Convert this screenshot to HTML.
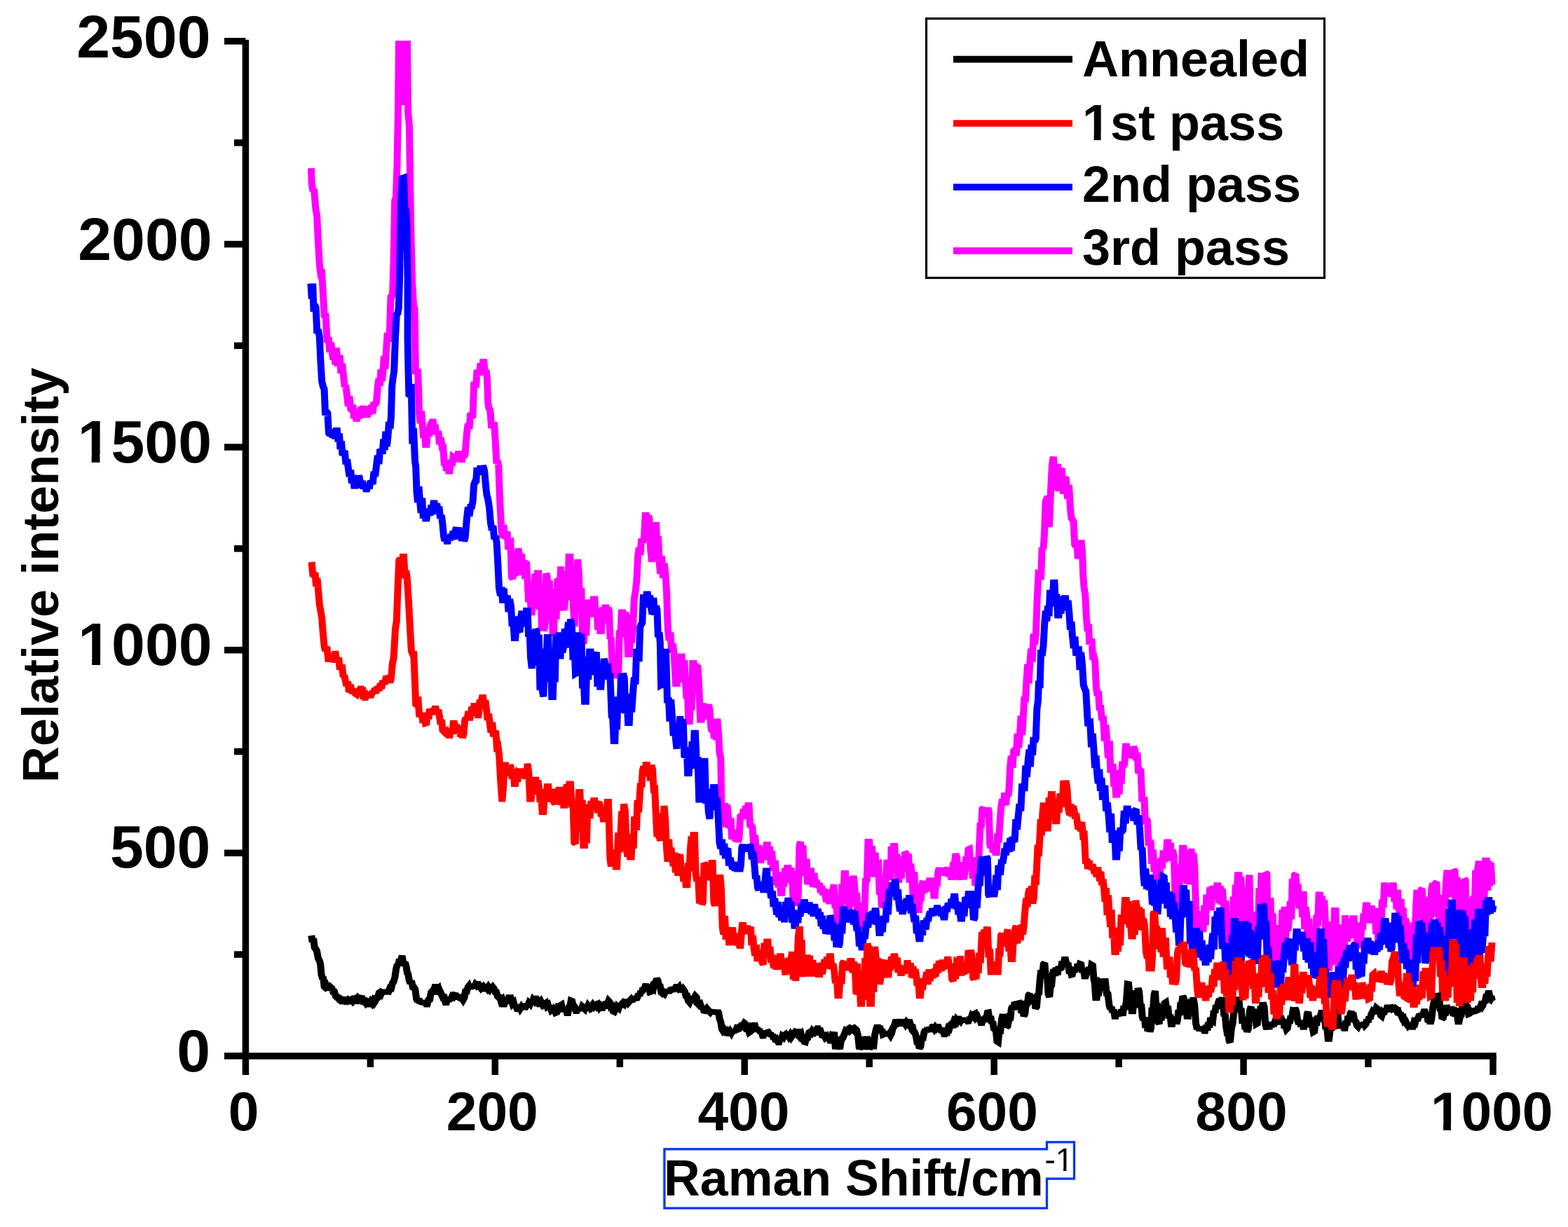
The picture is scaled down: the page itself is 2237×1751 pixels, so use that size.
<!DOCTYPE html>
<html><head><meta charset="utf-8"><title>Raman spectra</title>
<style>html,body{margin:0;padding:0;background:#fff;}body{width:2237px;height:1751px;overflow:hidden;}svg{display:block;}</style>
</head><body>
<svg width="2237" height="1751" viewBox="0 0 2237 1751"><polyline points="444.2,1335.0 445.7,1344.1 447.2,1339.1 448.7,1351.9 450.2,1354.0 452.0,1357.1 453.9,1367.4 455.7,1370.7 457.1,1375.3 458.5,1390.6 459.9,1395.5 461.3,1396.5 462.6,1407.8 464.0,1409.0 465.6,1407.2 467.2,1411.6 468.8,1406.3 470.4,1412.7 472.0,1409.2 473.6,1410.6 475.3,1415.3 477.1,1415.6 478.8,1421.3 480.5,1423.0 482.1,1423.2 483.8,1425.8 485.4,1425.6 487.1,1428.4 488.7,1428.5 490.3,1427.5 491.8,1428.5 493.4,1427.5 495.0,1428.5 496.6,1427.1 498.1,1428.5 499.7,1428.5 501.2,1427.2 502.8,1428.7 504.3,1426.4 505.8,1427.2 507.4,1425.5 508.9,1426.5 510.4,1424.3 512.0,1426.1 513.5,1424.3 515.0,1424.6 516.6,1427.5 518.1,1426.6 519.7,1429.2 521.2,1428.8 522.8,1432.0 524.4,1430.8 525.9,1432.6 527.5,1432.6 529.1,1429.6 530.7,1431.6 532.3,1428.5 533.9,1430.9 535.5,1428.5 537.2,1424.2 539.0,1423.5 540.7,1417.1 542.4,1416.0 543.9,1417.8 545.5,1414.1 547.0,1417.9 548.5,1413.1 550.1,1417.8 551.6,1412.9 553.2,1417.8 554.7,1414.7 556.4,1409.8 558.2,1410.1 559.9,1403.1 561.6,1401.0 563.4,1394.5 565.2,1382.3 567.0,1376.0 568.4,1377.5 569.8,1368.8 571.2,1373.4 572.6,1368.0 574.3,1368.1 576.0,1377.8 577.8,1373.2 579.5,1379.0 580.9,1387.9 582.2,1390.0 583.6,1398.0 585.3,1403.3 587.0,1399.9 588.8,1408.4 590.5,1409.0 592.3,1411.7 594.2,1425.6 596.0,1428.5 597.5,1425.2 599.0,1431.3 600.6,1428.6 602.1,1432.0 603.6,1429.6 605.1,1432.6 606.7,1428.4 608.2,1432.6 609.7,1432.6 611.4,1427.0 613.2,1426.1 614.9,1416.7 616.6,1414.7 618.4,1414.6 620.2,1409.0 622.0,1409.0 623.7,1412.2 625.3,1410.8 627.0,1418.6 628.6,1416.5 630.3,1420.2 632.0,1423.9 633.8,1423.6 635.5,1430.0 637.2,1430.0 638.8,1426.0 640.3,1428.9 641.9,1423.4 643.5,1425.6 645.1,1421.9 646.6,1422.8 648.2,1420.0 649.8,1417.9 651.3,1424.9 652.9,1419.6 654.4,1425.6 656.0,1421.7 657.5,1426.9 659.1,1424.8 660.6,1427.0 662.3,1424.0 664.0,1415.2 665.8,1414.9 667.5,1409.0 669.0,1407.1 670.5,1410.6 672.1,1406.5 673.6,1408.9 675.1,1406.0 676.6,1408.4 678.2,1405.1 679.7,1406.6 681.2,1405.0 682.8,1405.0 684.3,1407.3 685.9,1405.3 687.5,1409.5 689.1,1408.1 690.6,1410.6 692.2,1410.6 693.8,1409.4 695.3,1411.1 696.9,1408.5 698.5,1410.9 700.1,1407.8 701.6,1411.3 703.2,1409.0 704.8,1411.0 706.5,1415.5 708.1,1415.9 709.8,1421.5 711.4,1423.0 713.1,1423.4 714.7,1428.6 716.4,1426.9 718.0,1432.6 719.7,1432.6 721.5,1428.4 723.4,1428.0 725.2,1424.3 726.7,1424.3 728.3,1429.6 729.8,1428.0 731.3,1432.7 732.9,1431.2 734.4,1437.2 735.9,1434.3 737.5,1439.3 739.0,1439.5 740.6,1436.7 742.1,1439.5 743.7,1437.1 745.3,1439.5 746.9,1434.8 748.4,1439.2 750.0,1436.7 751.5,1433.2 753.0,1435.3 754.6,1431.2 756.1,1432.6 757.6,1428.2 759.1,1431.9 760.7,1427.0 762.2,1428.6 763.7,1425.7 765.2,1425.7 766.7,1428.5 768.3,1426.3 769.8,1429.8 771.3,1428.4 772.8,1431.3 774.4,1429.1 775.9,1433.6 777.4,1432.6 778.9,1431.6 780.4,1435.9 782.0,1434.6 783.5,1439.8 785.0,1437.2 786.5,1441.3 788.0,1440.1 789.6,1445.0 791.1,1441.2 792.6,1445.0 794.3,1444.3 796.0,1438.0 797.7,1438.9 799.4,1435.3 801.0,1434.3 802.5,1441.4 804.1,1438.2 805.7,1443.2 807.3,1439.0 808.8,1445.0 810.4,1445.0 811.8,1437.4 813.2,1436.6 814.6,1428.5 816.3,1429.2 818.0,1437.2 819.7,1437.2 821.4,1442.0 823.0,1442.0 824.5,1438.1 826.1,1442.0 827.7,1437.3 829.3,1441.0 830.8,1436.6 832.4,1438.0 834.1,1439.6 835.7,1435.0 837.4,1439.1 839.0,1435.2 840.7,1437.3 842.4,1434.0 844.0,1436.5 845.7,1434.0 847.3,1436.2 849.0,1434.0 850.6,1433.5 852.1,1435.9 853.7,1434.3 855.3,1437.7 856.9,1435.9 858.4,1438.0 860.0,1438.0 861.6,1434.8 863.3,1434.9 864.9,1429.9 866.6,1432.6 868.2,1428.5 869.8,1430.2 871.5,1436.8 873.1,1436.1 874.8,1442.8 876.4,1443.6 878.0,1440.2 879.5,1442.9 881.1,1436.9 882.7,1438.3 884.3,1433.3 885.8,1436.7 887.4,1432.6 889.0,1431.0 890.5,1432.4 892.1,1428.9 893.7,1431.7 895.3,1426.9 896.8,1430.3 898.4,1428.5 900.0,1426.7 901.5,1429.5 903.1,1424.8 904.7,1427.4 906.3,1422.2 907.8,1426.2 909.4,1423.0 911.0,1418.8 912.5,1420.9 914.1,1414.8 915.7,1416.7 917.3,1410.0 918.8,1412.6 920.4,1407.9 922.1,1408.0 923.7,1413.6 925.4,1410.6 927.0,1415.3 928.7,1414.7 930.4,1409.6 932.0,1410.8 933.7,1401.0 935.3,1402.4 937.0,1397.0 938.6,1399.5 940.2,1406.8 941.8,1407.6 943.4,1416.1 945.0,1417.5 946.6,1415.9 948.1,1417.5 949.7,1414.1 951.3,1416.6 952.9,1412.6 954.4,1415.9 956.0,1413.4 957.6,1410.8 959.3,1414.9 960.9,1409.0 962.5,1412.0 964.2,1409.0 965.8,1409.0 967.4,1410.7 968.9,1409.0 970.5,1413.0 972.1,1410.0 973.7,1415.4 975.2,1412.5 976.8,1414.7 978.5,1420.8 980.2,1421.1 981.9,1428.1 983.6,1430.0 985.3,1425.6 986.9,1429.1 988.6,1422.1 990.2,1424.7 991.9,1421.6 993.7,1423.4 995.6,1432.2 997.4,1434.0 999.0,1433.1 1000.7,1439.0 1002.3,1436.7 1004.0,1441.7 1005.6,1442.0 1007.1,1440.4 1008.5,1443.9 1010.0,1441.2 1011.5,1443.0 1013.0,1444.4 1014.5,1442.1 1016.1,1445.5 1017.6,1442.2 1019.1,1445.9 1020.6,1443.0 1022.2,1446.4 1023.7,1442.7 1025.2,1445.4 1026.7,1454.2 1028.3,1458.6 1029.8,1468.3 1031.5,1471.0 1033.2,1469.3 1034.9,1471.9 1036.6,1470.9 1038.3,1474.0 1040.0,1474.0 1041.6,1471.7 1043.2,1474.0 1044.8,1470.9 1046.3,1473.6 1047.9,1469.2 1049.5,1471.9 1051.1,1467.7 1052.7,1468.3 1054.2,1467.9 1055.8,1463.2 1057.3,1465.5 1058.8,1460.5 1060.4,1462.8 1061.9,1460.3 1063.6,1461.7 1065.3,1468.0 1067.0,1468.0 1068.7,1473.0 1070.4,1471.8 1072.2,1466.0 1073.9,1467.1 1075.6,1463.7 1077.1,1463.7 1078.7,1469.7 1080.2,1467.0 1081.7,1471.8 1083.3,1468.9 1084.8,1473.9 1086.3,1472.1 1087.9,1477.5 1089.4,1477.5 1091.1,1474.1 1092.8,1477.9 1094.5,1471.3 1096.2,1473.0 1097.7,1477.4 1099.3,1474.5 1100.8,1478.6 1102.3,1476.5 1103.9,1482.8 1105.4,1481.2 1106.9,1486.2 1108.5,1484.2 1110.0,1486.7 1111.5,1486.7 1113.1,1482.2 1114.6,1484.3 1116.1,1479.1 1117.7,1480.4 1119.2,1477.5 1120.8,1476.3 1122.5,1479.0 1124.1,1475.9 1125.7,1478.9 1127.3,1476.5 1129.0,1479.8 1130.6,1477.5 1132.1,1475.6 1133.7,1477.8 1135.2,1474.4 1136.7,1475.7 1138.3,1473.0 1139.8,1473.0 1141.3,1477.2 1142.9,1475.7 1144.4,1481.6 1145.9,1481.3 1147.5,1486.2 1149.0,1486.7 1150.7,1481.0 1152.4,1480.7 1154.1,1473.9 1155.8,1473.0 1157.4,1474.2 1159.1,1470.8 1160.7,1472.2 1162.4,1468.3 1164.0,1470.7 1165.7,1468.3 1167.3,1468.3 1169.0,1472.3 1170.8,1471.9 1172.5,1477.0 1174.2,1477.5 1175.8,1477.5 1177.5,1480.7 1179.1,1479.4 1180.7,1483.8 1182.3,1479.8 1184.0,1484.4 1185.6,1484.4 1187.1,1478.5 1188.5,1479.4 1190.0,1473.0 1192.0,1497.0 1193.5,1485.9 1195.0,1480.0 1196.5,1491.2 1198.0,1497.0 1199.5,1487.7 1201.0,1482.0 1202.5,1481.0 1204.0,1477.5 1205.7,1473.1 1207.4,1475.1 1209.1,1469.5 1210.8,1468.3 1212.3,1470.3 1213.9,1468.3 1215.4,1469.3 1216.9,1468.3 1218.5,1470.2 1220.0,1468.3 1222.0,1470.0 1224.0,1477.5 1226.0,1497.0 1228.0,1492.7 1230.0,1480.0 1231.5,1485.0 1233.0,1497.0 1235.0,1490.8 1237.0,1480.0 1238.5,1483.8 1240.0,1497.0 1242.0,1492.7 1244.0,1482.0 1246.0,1497.0 1248.0,1477.5 1250.0,1468.6 1252.0,1463.7 1253.5,1467.5 1255.1,1464.4 1256.6,1472.1 1258.1,1468.8 1259.7,1475.9 1261.2,1475.2 1262.7,1472.9 1264.3,1477.3 1265.8,1473.7 1267.3,1477.5 1268.9,1475.3 1270.4,1477.5 1272.1,1474.2 1273.8,1466.9 1275.6,1464.5 1277.3,1459.0 1278.9,1459.0 1280.6,1460.2 1282.2,1459.0 1283.8,1459.8 1285.4,1459.0 1287.1,1459.9 1288.7,1459.0 1290.2,1459.0 1291.8,1461.5 1293.3,1459.0 1294.8,1460.8 1296.4,1459.0 1297.9,1459.0 1299.6,1464.3 1301.3,1462.6 1303.1,1471.8 1304.8,1473.0 1306.5,1477.4 1308.2,1486.2 1309.9,1486.2 1311.6,1495.8 1313.3,1493.3 1315.0,1482.2 1316.8,1481.5 1318.5,1473.0 1320.1,1469.6 1321.8,1472.4 1323.4,1467.0 1325.1,1471.9 1326.7,1466.4 1328.4,1469.5 1330.0,1466.0 1331.5,1466.0 1333.0,1468.3 1334.5,1466.0 1336.0,1467.7 1337.5,1466.0 1339.0,1466.0 1340.5,1469.7 1342.1,1467.2 1343.7,1473.2 1345.2,1470.7 1346.8,1475.2 1348.3,1475.2 1349.8,1472.1 1351.4,1472.6 1352.9,1467.2 1354.4,1468.0 1356.0,1462.7 1357.5,1461.4 1359.1,1461.9 1360.8,1457.6 1362.4,1459.3 1364.1,1455.5 1365.7,1457.6 1367.4,1454.6 1369.0,1454.6 1370.6,1456.6 1372.3,1453.6 1373.9,1457.3 1375.5,1453.9 1377.1,1457.9 1378.8,1454.4 1380.4,1456.9 1381.9,1456.7 1383.5,1452.2 1385.0,1454.3 1386.5,1449.6 1388.1,1450.9 1389.6,1447.7 1391.2,1446.8 1392.9,1452.4 1394.5,1451.1 1396.1,1455.1 1397.7,1452.9 1399.4,1459.0 1401.0,1459.0 1402.5,1453.4 1404.1,1458.3 1405.6,1450.5 1407.1,1453.4 1408.7,1445.7 1410.2,1445.4 1411.7,1453.9 1413.2,1450.3 1414.8,1460.6 1416.3,1458.1 1417.8,1467.4 1419.3,1468.3 1420.9,1471.7 1422.4,1485.7 1424.0,1486.7 1425.7,1470.5 1427.4,1470.6 1429.1,1454.2 1430.8,1447.7 1432.5,1457.2 1434.2,1449.8 1436.0,1465.1 1437.7,1463.7 1439.4,1454.5 1441.2,1456.0 1442.9,1439.4 1444.6,1436.2 1446.1,1441.1 1447.6,1430.1 1449.2,1437.5 1450.7,1429.4 1452.2,1435.4 1453.7,1429.4 1455.4,1431.5 1457.2,1445.3 1458.9,1440.4 1460.6,1450.0 1462.3,1446.3 1464.0,1432.0 1465.8,1431.5 1467.5,1420.2 1469.1,1418.7 1470.8,1427.0 1472.4,1420.2 1474.1,1432.3 1475.7,1424.3 1477.4,1439.1 1479.0,1436.2 1480.5,1417.7 1482.0,1419.7 1483.5,1399.6 1485.2,1384.6 1487.0,1391.9 1488.7,1376.2 1490.4,1374.4 1492.1,1394.3 1493.8,1390.7 1495.6,1418.7 1497.3,1422.5 1498.8,1406.9 1500.2,1405.8 1501.7,1390.5 1503.4,1383.7 1505.1,1392.4 1506.8,1381.0 1508.6,1391.0 1510.3,1379.5 1512.0,1382.3 1513.6,1383.9 1515.3,1371.9 1516.9,1378.6 1518.6,1370.0 1520.2,1370.0 1521.8,1376.8 1523.5,1374.1 1525.1,1384.6 1526.8,1384.4 1528.4,1390.5 1529.9,1390.1 1531.5,1383.2 1533.0,1387.0 1534.6,1380.7 1536.1,1383.6 1537.6,1375.7 1539.2,1381.7 1540.7,1376.0 1542.3,1376.6 1544.0,1387.8 1545.6,1381.8 1547.3,1392.5 1548.9,1392.5 1550.6,1387.0 1552.3,1390.1 1554.0,1380.3 1555.6,1387.5 1557.3,1377.2 1559.0,1378.2 1560.4,1396.4 1561.8,1403.5 1563.2,1423.3 1564.8,1423.3 1566.5,1412.1 1568.1,1413.3 1569.8,1401.8 1571.4,1402.8 1573.2,1406.2 1575.1,1401.0 1576.9,1401.0 1578.8,1417.9 1580.6,1418.8 1582.5,1434.8 1584.1,1439.8 1585.6,1437.0 1587.2,1444.5 1588.8,1440.7 1590.3,1449.8 1591.9,1449.8 1593.5,1443.7 1595.2,1449.8 1596.8,1443.8 1598.5,1447.4 1600.1,1440.9 1601.7,1449.5 1603.4,1435.7 1605.0,1440.4 1606.8,1430.1 1608.7,1404.8 1610.2,1405.1 1611.7,1423.0 1613.2,1418.9 1614.7,1442.3 1616.2,1442.3 1617.7,1427.2 1619.2,1437.9 1620.7,1413.6 1622.2,1420.5 1623.7,1410.5 1625.2,1415.3 1626.7,1434.3 1628.2,1433.2 1629.7,1451.1 1631.2,1455.4 1632.8,1452.0 1634.3,1466.7 1635.9,1456.1 1637.5,1471.4 1639.0,1461.8 1640.6,1472.3 1642.1,1466.3 1643.6,1438.1 1645.0,1441.5 1646.5,1420.1 1648.0,1414.2 1649.4,1436.9 1650.8,1431.4 1652.3,1458.3 1653.7,1461.0 1655.2,1447.0 1656.8,1456.1 1658.3,1435.8 1659.9,1444.7 1661.5,1432.0 1663.0,1431.0 1664.6,1441.9 1666.1,1435.8 1667.7,1453.5 1669.3,1447.9 1670.8,1461.0 1672.4,1461.0 1673.9,1452.1 1675.4,1461.0 1677.0,1451.3 1678.5,1461.0 1680.0,1455.4 1681.5,1441.2 1683.0,1448.8 1684.4,1430.7 1685.9,1432.9 1687.4,1421.7 1688.9,1424.7 1690.4,1436.9 1692.0,1432.0 1693.5,1449.7 1695.0,1449.8 1696.5,1437.0 1698.0,1442.0 1699.4,1426.0 1700.9,1433.9 1702.4,1423.6 1704.3,1434.8 1706.1,1460.6 1708.0,1468.5 1709.6,1465.6 1711.2,1470.4 1712.8,1466.3 1714.5,1470.4 1716.1,1467.4 1717.7,1470.4 1719.3,1470.4 1720.8,1463.2 1722.4,1470.4 1723.9,1459.2 1725.5,1466.3 1727.0,1452.5 1728.6,1455.4 1730.2,1456.5 1731.7,1442.6 1733.3,1445.3 1734.9,1434.5 1736.4,1439.0 1738.0,1431.0 1739.9,1425.9 1741.7,1432.3 1743.6,1423.6 1745.0,1431.6 1746.4,1450.3 1747.8,1446.9 1749.2,1464.8 1750.6,1473.1 1752.1,1472.8 1753.5,1485.1 1754.9,1487.3 1756.8,1468.2 1758.6,1460.5 1760.5,1442.3 1762.3,1431.3 1764.2,1437.2 1766.0,1427.3 1767.5,1427.3 1769.0,1444.3 1770.6,1438.8 1772.1,1455.6 1773.6,1455.4 1775.0,1452.0 1776.4,1469.0 1777.8,1464.7 1779.2,1472.3 1781.1,1467.2 1782.9,1442.4 1784.8,1436.7 1786.3,1448.1 1787.8,1439.7 1789.3,1456.4 1790.8,1448.0 1792.3,1461.0 1793.9,1460.1 1795.4,1447.3 1797.0,1454.3 1798.6,1435.8 1800.1,1441.1 1801.7,1431.0 1803.6,1437.0 1805.4,1462.3 1807.3,1468.5 1808.9,1462.4 1810.5,1468.5 1812.1,1459.5 1813.8,1465.6 1815.4,1458.9 1817.0,1463.9 1818.6,1459.2 1820.2,1454.0 1821.7,1461.9 1823.3,1453.6 1824.9,1458.6 1826.4,1453.6 1828.0,1453.6 1829.5,1458.3 1831.0,1454.5 1832.4,1467.3 1833.9,1463.7 1835.4,1468.5 1836.9,1467.0 1838.4,1456.5 1839.9,1460.5 1841.5,1449.9 1843.0,1452.3 1844.5,1443.2 1846.0,1443.9 1847.5,1438.6 1849.3,1443.0 1851.2,1456.2 1853.0,1461.0 1854.5,1456.2 1856.0,1464.8 1857.6,1457.7 1859.1,1464.8 1860.6,1464.8 1862.0,1457.7 1863.4,1460.2 1864.8,1447.4 1866.2,1444.2 1867.7,1455.0 1869.2,1451.7 1870.7,1465.6 1872.2,1464.2 1873.7,1472.3 1875.2,1471.4 1876.7,1459.3 1878.2,1463.5 1879.7,1450.2 1881.2,1451.7 1883.1,1452.4 1884.9,1446.0 1886.8,1446.0 1888.4,1457.5 1889.9,1453.5 1891.5,1468.6 1893.1,1465.8 1894.6,1481.7 1896.2,1481.7 1897.8,1467.9 1899.3,1470.6 1900.9,1454.6 1902.5,1456.5 1904.0,1439.4 1905.6,1434.8 1907.0,1448.4 1908.4,1444.0 1909.8,1463.1 1911.2,1466.7 1912.7,1460.2 1914.2,1466.7 1915.7,1463.0 1917.2,1466.7 1918.7,1466.7 1920.2,1456.7 1921.8,1463.3 1923.3,1449.8 1924.9,1456.6 1926.5,1446.2 1928.0,1444.2 1929.6,1449.7 1931.1,1449.6 1932.7,1458.3 1934.3,1456.6 1935.8,1463.2 1937.4,1464.8 1939.0,1461.5 1940.6,1464.8 1942.2,1461.7 1943.9,1464.8 1945.5,1459.4 1947.1,1462.8 1948.7,1461.0 1950.2,1455.2 1951.7,1458.8 1953.2,1451.3 1954.7,1453.7 1956.2,1448.0 1957.7,1444.8 1959.2,1446.8 1960.7,1439.9 1962.2,1443.3 1963.7,1438.6 1965.2,1439.8 1966.7,1445.4 1968.2,1443.6 1969.7,1448.6 1971.2,1449.8 1972.7,1445.4 1974.2,1447.0 1975.7,1440.6 1977.2,1443.3 1978.7,1438.6 1980.3,1438.6 1981.9,1439.4 1983.5,1438.6 1985.2,1439.9 1986.8,1438.6 1988.4,1439.5 1990.0,1438.6 1991.5,1439.6 1993.1,1443.2 1994.7,1442.8 1996.2,1448.1 1997.8,1445.8 1999.3,1449.8 2000.8,1453.2 2002.3,1452.6 2003.8,1458.0 2005.3,1457.5 2006.8,1461.0 2008.3,1463.2 2009.8,1461.0 2011.3,1464.2 2012.8,1461.4 2014.3,1464.8 2015.8,1464.8 2017.4,1458.6 2018.9,1459.5 2020.5,1453.3 2022.0,1456.4 2023.6,1451.7 2025.2,1447.9 2026.7,1451.1 2028.3,1446.3 2029.9,1449.4 2031.4,1444.2 2033.0,1444.2 2034.5,1449.5 2036.0,1446.7 2037.5,1458.7 2039.0,1453.1 2040.5,1461.0 2042.3,1454.3 2044.2,1437.8 2046.0,1429.2 2047.4,1430.2 2048.8,1419.4 2050.3,1426.3 2051.7,1418.0 2053.1,1420.6 2054.6,1440.2 2056.0,1441.9 2057.4,1453.6 2058.9,1452.4 2060.4,1444.9 2061.8,1449.3 2063.3,1438.7 2064.8,1438.6 2066.4,1443.3 2067.9,1438.6 2069.5,1441.1 2071.1,1438.6 2072.6,1442.2 2074.2,1440.4 2075.7,1439.0 2077.2,1450.6 2078.7,1446.4 2080.2,1457.3 2081.7,1457.3 2083.2,1450.1 2084.7,1448.7 2086.2,1437.6 2087.7,1438.1 2089.2,1431.0 2090.7,1431.5 2092.2,1438.6 2093.7,1438.3 2095.2,1446.6 2096.7,1446.0 2098.2,1444.0 2099.8,1446.0 2101.3,1441.9 2102.9,1446.0 2104.4,1439.3 2106.0,1442.3 2107.6,1443.8 2109.1,1436.3 2110.7,1440.2 2112.3,1435.9 2113.8,1437.3 2115.4,1434.8 2116.9,1429.2 2118.4,1431.2 2120.0,1423.2 2121.5,1423.2 2123.0,1418.0 2124.5,1418.0 2126.0,1425.3 2127.4,1421.5 2128.9,1428.4 2130.4,1429.2" fill="none" stroke="#000" stroke-width="10.0" stroke-linejoin="miter" stroke-miterlimit="2"/>
<polyline points="444.0,240.0 444.6,260.0 446.3,272.9 448.0,269.5 450.4,297.6 452.2,308.3 454.0,346.8 455.8,377.0 457.5,391.0 459.2,390.4 461.0,420.0 462.8,453.3 464.5,447.0 466.8,489.0 468.6,481.2 470.4,502.5 472.2,488.9 474.0,505.0 475.5,513.3 477.0,501.1 478.5,520.3 480.0,496.4 481.5,522.6 483.0,512.0 484.8,507.1 486.5,532.8 488.2,518.8 490.0,536.0 491.7,552.3 493.3,549.5 495.0,564.0 496.8,579.8 498.5,565.6 500.2,583.3 502.0,585.0 503.5,577.7 505.0,597.0 506.5,589.2 508.0,597.0 509.6,597.0 511.2,589.6 512.8,597.0 514.4,585.0 516.0,585.0 517.5,590.5 519.0,579.1 520.5,595.6 522.0,584.4 523.5,594.7 525.0,591.0 526.7,580.9 528.3,591.0 530.0,577.8 531.7,590.1 533.3,574.1 535.0,578.0 537.0,573.9 539.0,550.0 540.5,540.3 542.0,550.6 543.5,527.2 545.0,543.8 546.5,529.0 548.0,508.2 549.5,526.4 551.0,501.0 552.7,475.0 554.3,487.4 556.0,470.0 557.5,424.0 559.0,423.0 560.2,417.2 561.5,375.0 563.2,286.3 565.0,281.0 566.5,235.3 568.0,155.0 569.0,58.0 571.0,150.0 573.0,58.0 575.0,150.0 577.0,58.0 579.0,150.0 581.0,58.0 582.0,158.0 584.0,180.0 586.0,317.0 588.0,400.0 590.0,435.0 591.5,440.9 593.0,534.0 594.5,529.0 596.2,527.2 598.0,587.0 599.6,604.1 601.1,586.6 602.7,606.0 604.2,625.1 605.6,609.0 607.0,634.0 608.5,634.0 610.3,611.6 612.2,622.7 614.0,606.0 616.0,602.6 618.0,602.6 619.4,612.2 620.9,605.9 622.3,619.5 623.7,618.0 625.4,615.4 627.0,634.2 628.7,624.2 630.3,635.2 632.0,634.0 634.0,664.6 635.5,658.2 637.0,671.7 638.5,663.9 640.0,671.7 641.6,671.7 643.2,656.6 644.8,665.1 646.4,652.0 648.0,653.0 649.6,657.0 651.1,648.5 652.7,657.4 654.2,643.7 655.8,659.3 657.4,644.7 658.9,659.8 660.5,644.1 662.0,652.6 663.6,648.0 666.0,618.0 667.8,604.3 669.5,612.1 671.2,589.4 673.0,594.0 674.5,593.3 676.1,549.9 677.6,550.0 679.1,552.9 680.5,528.3 682.0,531.0 683.8,535.3 685.5,518.6 687.2,534.3 689.0,517.0 690.5,517.0 692.0,533.6 693.5,527.8 695.0,540.5 696.2,574.6 697.5,582.7 699.3,584.9 701.2,610.8 703.0,606.0 705.0,602.8 707.0,634.0 708.5,661.4 710.0,657.6 711.4,665.6 712.7,704.4 715.0,751.0 716.8,766.9 718.5,749.2 720.2,768.7 722.0,760.7 723.6,759.1 725.2,784.1 726.8,774.7 728.4,774.0 729.9,823.7 731.5,825.6 733.0,812.2 734.6,821.9 736.1,799.2 737.7,820.5 739.2,782.8 740.8,790.4 742.5,805.4 744.2,790.4 745.9,820.8 747.5,799.4 749.2,826.3 750.9,801.1 752.6,830.0 754.1,859.2 755.5,829.5 757.0,860.7 758.6,878.0 760.2,830.9 761.8,867.8 763.4,818.5 765.0,850.9 766.6,818.5 768.2,818.5 769.7,870.4 771.3,834.0 772.9,900.5 774.4,861.3 776.0,900.5 777.6,890.8 779.1,818.5 780.7,823.0 782.2,866.1 783.8,828.2 785.4,883.4 786.9,840.5 788.5,902.9 790.0,902.9 791.8,859.7 793.5,883.8 795.2,829.2 797.0,828.0 798.6,856.3 800.1,808.3 801.7,871.7 803.3,815.1 804.8,870.7 806.4,853.7 808.1,826.7 809.9,856.4 811.6,795.0 813.4,795.0 814.9,840.0 816.5,815.1 818.0,867.0 819.6,893.9 821.1,829.4 822.7,869.8 824.2,798.3 825.8,818.0 827.5,874.1 829.3,839.2 831.0,904.5 832.8,919.0 834.5,889.5 836.3,907.1 838.0,860.4 839.8,858.0 841.5,879.5 843.3,855.6 845.0,880.5 846.8,855.6 848.4,855.6 849.9,880.3 851.5,869.9 853.1,899.0 854.6,882.6 856.2,900.0 858.0,900.0 859.7,866.4 861.5,889.4 863.2,867.4 864.7,867.4 866.1,880.2 867.5,867.4 869.0,872.0 870.5,911.7 872.0,910.2 873.5,950.9 875.0,965.7 876.5,947.2 877.9,968.0 879.3,950.0 880.8,968.0 882.3,959.5 883.8,899.3 885.2,909.1 886.7,874.4 888.5,874.4 890.2,899.3 892.0,874.4 893.7,879.0 896.0,933.0 897.8,933.0 899.5,900.5 901.2,917.8 903.0,895.5 904.8,854.7 906.6,844.0 908.3,828.6 910.0,794.8 911.8,781.5 913.5,792.2 915.2,768.8 917.0,773.7 918.8,768.5 920.6,736.0 922.1,736.0 923.5,751.0 925.0,736.0 926.5,741.0 928.2,784.8 930.0,801.8 931.6,772.5 933.1,784.5 934.7,750.0 936.2,750.0 937.6,784.5 939.0,765.2 940.5,801.8 942.2,818.7 944.0,793.4 945.8,824.9 947.5,804.0 949.2,816.3 951.0,844.0 952.8,897.7 954.6,914.0 956.4,902.6 958.1,931.4 959.9,918.3 961.6,933.0 964.0,975.0 965.8,975.0 967.5,935.4 969.2,967.4 971.0,937.6 972.8,937.6 974.5,974.0 976.2,942.1 978.0,972.7 979.5,997.0 980.9,987.8 982.3,1029.0 983.8,1029.0 985.3,992.3 986.8,1013.5 988.2,947.0 989.7,947.0 991.2,966.4 992.6,947.0 994.0,963.6 995.5,949.3 997.2,979.2 999.0,1026.6 1000.8,1026.6 1002.5,1007.1 1004.2,1026.6 1006.0,1008.0 1007.6,1005.5 1009.2,1014.6 1010.8,1005.5 1012.5,1013.0 1014.3,1038.0 1015.8,1044.4 1017.3,1033.0 1018.8,1053.9 1020.3,1035.0 1021.8,1055.8 1023.3,1025.7 1024.8,1044.0 1026.5,1074.2 1028.3,1082.0 1029.5,1159.0 1031.1,1150.6 1032.6,1176.6 1034.2,1146.3 1035.8,1180.5 1037.3,1148.4 1038.9,1164.0 1040.7,1181.7 1042.5,1167.3 1044.2,1197.6 1046.0,1187.4 1047.8,1184.7 1049.5,1200.6 1051.2,1190.1 1053.0,1201.4 1054.5,1195.6 1056.1,1165.3 1057.6,1164.0 1059.2,1167.3 1060.7,1154.7 1062.3,1168.8 1063.9,1150.0 1065.4,1163.2 1067.0,1150.0 1068.6,1150.0 1070.1,1180.3 1071.7,1178.0 1073.5,1181.2 1075.2,1207.6 1077.0,1191.7 1078.7,1210.8 1080.5,1225.8 1082.2,1206.3 1084.0,1227.0 1085.7,1227.0 1087.2,1212.4 1088.8,1226.4 1090.3,1208.1 1091.9,1227.0 1093.5,1206.0 1095.0,1206.0 1096.6,1223.2 1098.1,1207.7 1099.7,1233.9 1101.3,1214.2 1102.8,1242.7 1104.4,1234.0 1106.0,1227.9 1107.5,1263.4 1109.1,1244.3 1110.7,1266.3 1112.2,1254.8 1113.8,1274.0 1115.3,1274.0 1116.9,1251.6 1118.4,1265.5 1119.9,1238.9 1121.5,1260.2 1123.0,1239.0 1124.8,1239.0 1126.5,1251.2 1128.2,1239.0 1130.0,1246.0 1131.4,1281.4 1132.9,1250.9 1134.3,1292.3 1135.8,1267.3 1137.2,1292.7 1138.8,1276.1 1140.4,1207.3 1142.0,1201.4 1143.8,1225.8 1145.5,1206.1 1147.2,1245.7 1149.0,1246.0 1150.5,1225.4 1152.1,1262.3 1153.7,1244.0 1155.2,1261.9 1156.8,1238.8 1158.3,1255.3 1159.9,1265.6 1161.4,1246.0 1163.0,1265.0 1164.6,1255.6 1166.1,1266.1 1167.7,1262.3 1169.2,1260.5 1170.8,1274.0 1172.3,1264.4 1173.9,1277.1 1175.5,1268.7 1177.0,1276.3 1178.5,1283.0 1180.0,1283.0 1181.6,1271.6 1183.3,1290.1 1184.9,1269.6 1186.6,1288.9 1188.2,1269.6 1189.8,1262.5 1191.5,1296.3 1193.1,1287.2 1194.8,1320.8 1196.4,1320.8 1198.0,1291.2 1199.7,1311.4 1201.3,1261.3 1203.0,1282.3 1204.6,1247.0 1206.2,1247.0 1207.9,1289.6 1209.5,1252.4 1211.2,1296.5 1212.8,1288.0 1214.3,1269.4 1215.9,1292.4 1217.5,1249.8 1219.0,1261.4 1220.6,1290.7 1222.2,1273.9 1223.8,1320.8 1225.4,1288.1 1227.0,1320.8 1228.6,1320.8 1230.2,1301.5 1231.7,1320.8 1233.3,1304.4 1235.0,1252.9 1236.7,1259.2 1238.4,1202.0 1240.2,1202.0 1242.0,1228.9 1243.8,1207.5 1245.6,1230.7 1247.1,1251.4 1248.7,1216.8 1250.2,1249.7 1251.7,1234.8 1253.2,1233.9 1254.8,1276.9 1256.4,1270.2 1257.9,1294.2 1259.4,1292.7 1261.0,1257.7 1262.5,1277.6 1264.0,1251.0 1265.5,1227.0 1267.1,1255.8 1268.6,1227.1 1270.2,1254.1 1271.7,1208.0 1273.2,1236.2 1274.8,1208.0 1276.3,1208.0 1277.8,1242.3 1279.4,1218.6 1281.0,1255.0 1282.5,1255.0 1284.2,1228.2 1285.9,1253.4 1287.6,1223.4 1289.3,1244.0 1291.0,1215.9 1292.7,1218.4 1294.4,1234.4 1296.0,1218.4 1297.7,1259.5 1299.3,1232.5 1301.0,1249.0 1302.7,1279.4 1304.3,1244.3 1306.0,1284.5 1307.7,1262.5 1309.3,1298.0 1311.0,1298.0 1312.4,1278.0 1313.8,1285.9 1315.2,1263.4 1316.7,1257.3 1318.3,1274.5 1319.8,1257.3 1321.3,1268.6 1322.9,1257.3 1324.4,1272.2 1326.0,1257.3 1327.5,1257.3 1329.0,1269.7 1330.6,1252.8 1332.2,1277.8 1333.7,1277.8 1335.2,1261.4 1336.8,1264.9 1338.3,1244.4 1339.8,1238.9 1341.5,1244.8 1343.2,1238.9 1344.9,1247.3 1346.6,1238.9 1348.3,1249.1 1350.0,1245.0 1351.7,1238.0 1353.3,1251.0 1355.0,1241.0 1356.6,1251.0 1358.3,1251.0 1360.0,1231.2 1361.7,1233.1 1363.4,1218.4 1365.1,1223.8 1366.8,1248.0 1368.5,1255.0 1370.1,1246.3 1371.8,1255.0 1373.4,1230.7 1375.1,1255.0 1376.7,1243.0 1378.2,1222.6 1379.8,1234.7 1381.4,1212.9 1382.9,1212.2 1384.5,1239.8 1386.1,1223.4 1387.8,1253.8 1389.4,1230.3 1391.0,1259.3 1392.5,1259.3 1394.1,1224.1 1395.7,1239.2 1397.2,1206.0 1398.6,1174.3 1399.9,1181.3 1401.3,1154.8 1402.9,1152.8 1404.6,1165.4 1406.2,1152.8 1407.9,1161.9 1409.5,1152.8 1410.9,1159.3 1412.2,1205.0 1413.6,1210.0 1415.2,1205.0 1416.9,1216.3 1418.5,1203.4 1420.2,1216.3 1421.8,1216.3 1423.2,1189.3 1424.6,1202.5 1426.0,1181.5 1428.0,1153.5 1430.0,1140.5 1431.6,1149.4 1433.3,1131.4 1434.9,1149.0 1436.6,1131.6 1438.2,1136.4 1439.6,1125.5 1441.0,1096.0 1442.8,1078.7 1444.5,1095.6 1446.2,1071.7 1448.0,1070.0 1449.8,1078.4 1451.5,1047.0 1453.2,1067.2 1455.0,1046.8 1456.6,1021.6 1458.2,1048.8 1459.8,1023.4 1461.4,994.4 1462.9,1001.7 1464.5,971.3 1466.1,947.9 1467.6,975.3 1469.2,947.9 1471.0,925.8 1472.7,944.6 1474.5,904.4 1476.2,919.8 1478.0,903.1 1479.7,854.2 1481.5,820.3 1483.2,821.4 1485.0,827.1 1486.7,781.4 1488.5,784.0 1490.0,761.4 1491.5,716.0 1493.2,712.0 1495.0,712.0 1497.0,752.0 1499.0,700.0 1501.0,662.0 1503.0,652.0 1505.0,700.0 1507.0,680.0 1509.0,662.0 1510.5,694.8 1512.0,700.0 1513.5,671.5 1515.0,672.0 1516.5,700.0 1518.0,700.0 1519.5,682.1 1521.0,684.0 1523.0,712.0 1525.0,692.0 1527.0,726.0 1528.5,739.2 1530.0,741.8 1531.6,744.4 1533.2,777.1 1534.8,779.3 1536.3,773.3 1537.9,797.3 1539.4,771.1 1541.0,795.3 1542.5,770.8 1544.1,788.6 1545.3,822.1 1546.5,837.8 1548.2,848.2 1550.0,882.3 1551.5,900.8 1552.9,890.7 1554.3,919.6 1555.8,915.0 1557.4,911.4 1558.9,936.3 1560.5,936.0 1562.2,943.6 1564.0,980.6 1565.5,993.0 1567.0,985.8 1568.5,1013.5 1570.0,1006.4 1572.2,1028.0 1574.0,1021.7 1575.8,1057.6 1577.5,1034.4 1579.3,1058.5 1581.0,1081.8 1582.8,1057.2 1584.5,1102.7 1586.3,1093.7 1587.7,1090.6 1589.2,1122.6 1590.6,1106.6 1592.0,1133.5 1593.5,1133.5 1595.1,1114.0 1596.6,1133.5 1598.1,1099.3 1599.6,1118.7 1601.2,1086.7 1602.7,1093.7 1604.3,1090.3 1605.8,1065.6 1607.4,1065.6 1609.1,1081.2 1610.7,1065.6 1612.4,1081.2 1614.0,1065.6 1615.7,1082.2 1617.3,1065.6 1619.0,1070.0 1620.8,1084.8 1622.5,1074.4 1624.2,1103.7 1626.0,1098.4 1627.6,1100.2 1629.2,1140.0 1630.8,1140.5 1632.4,1137.1 1633.9,1176.1 1635.5,1168.6 1637.0,1171.6 1638.5,1200.6 1640.0,1200.0 1641.7,1202.2 1643.3,1232.7 1645.0,1212.3 1646.7,1244.3 1648.3,1231.5 1650.0,1251.0 1651.6,1251.0 1653.2,1235.9 1654.8,1246.4 1656.4,1224.4 1658.0,1239.5 1659.6,1213.5 1661.2,1226.8 1663.1,1229.0 1665.0,1202.5 1666.6,1202.5 1668.2,1228.4 1669.8,1202.5 1671.4,1227.3 1673.0,1213.0 1674.8,1222.1 1676.5,1275.5 1678.2,1252.8 1680.0,1292.7 1681.8,1292.7 1683.5,1233.9 1685.2,1257.3 1687.0,1210.8 1688.6,1210.8 1690.2,1241.2 1691.8,1221.8 1693.4,1261.2 1695.0,1251.2 1696.5,1214.9 1698.0,1262.3 1699.4,1211.1 1700.9,1240.7 1702.4,1217.5 1704.2,1234.1 1706.0,1292.4 1708.0,1329.7 1710.0,1330.0 1711.6,1300.4 1713.2,1330.0 1714.9,1303.9 1716.5,1330.0 1718.1,1292.0 1719.8,1320.5 1721.4,1276.8 1723.0,1285.0 1724.6,1293.3 1726.2,1266.4 1727.9,1299.2 1729.5,1264.3 1731.1,1283.4 1732.8,1264.3 1734.4,1275.2 1736.0,1264.3 1737.6,1264.3 1739.2,1288.7 1740.8,1264.3 1742.3,1290.6 1743.9,1268.6 1745.5,1286.8 1747.1,1312.3 1748.6,1285.4 1750.2,1335.7 1751.8,1318.4 1753.3,1348.6 1754.9,1348.6 1756.5,1324.1 1758.1,1348.6 1759.7,1279.7 1761.2,1313.0 1762.8,1262.5 1764.4,1277.6 1766.0,1249.3 1767.5,1249.3 1769.0,1308.0 1770.6,1250.9 1772.1,1326.2 1773.6,1311.2 1775.1,1273.0 1776.6,1319.3 1778.0,1269.8 1779.5,1305.8 1781.0,1270.0 1782.5,1248.7 1784.0,1336.7 1785.6,1301.2 1787.1,1352.4 1788.6,1352.4 1790.1,1315.1 1791.7,1352.4 1793.2,1301.0 1794.7,1352.4 1796.3,1267.4 1797.8,1335.7 1799.4,1245.6 1800.9,1308.3 1802.4,1245.6 1804.0,1279.9 1805.5,1245.6 1807.3,1247.3 1809.2,1320.5 1811.0,1307.4 1812.6,1281.4 1814.2,1364.0 1815.8,1303.4 1817.5,1382.4 1819.1,1322.3 1820.7,1382.4 1822.3,1382.4 1824.2,1320.3 1826.0,1328.0 1827.7,1352.6 1829.3,1298.5 1831.0,1349.3 1832.6,1293.9 1834.2,1341.4 1835.9,1302.5 1837.5,1328.4 1839.2,1311.2 1840.8,1286.0 1842.3,1311.8 1843.8,1254.0 1845.4,1276.7 1847.0,1248.8 1848.5,1247.5 1850.1,1268.7 1851.8,1261.7 1853.4,1296.1 1855.0,1292.4 1856.6,1280.7 1858.1,1309.1 1859.7,1272.1 1861.3,1326.0 1862.8,1294.3 1864.4,1307.4 1866.0,1343.5 1867.5,1310.8 1869.1,1364.1 1870.6,1337.0 1872.2,1370.9 1873.7,1371.0 1875.2,1332.7 1876.8,1368.8 1878.3,1305.3 1879.9,1322.1 1881.5,1277.4 1883.0,1277.4 1884.5,1311.9 1886.0,1278.3 1887.6,1311.2 1889.1,1284.4 1890.6,1311.2 1892.0,1357.0 1893.4,1315.4 1894.8,1380.5 1896.2,1380.5 1897.8,1349.8 1899.3,1377.0 1900.9,1325.1 1902.5,1341.9 1904.0,1300.0 1905.6,1300.0 1907.0,1354.5 1908.4,1319.0 1909.8,1384.2 1911.2,1384.2 1912.8,1360.9 1914.3,1384.2 1915.9,1337.2 1917.5,1364.3 1919.0,1306.4 1920.6,1320.5 1922.2,1343.8 1923.8,1311.2 1925.4,1339.2 1927.0,1311.2 1928.6,1332.3 1930.2,1311.2 1931.8,1311.2 1933.3,1330.0 1934.8,1316.6 1936.3,1348.6 1937.8,1323.8 1939.3,1348.6 1940.9,1348.6 1942.4,1323.1 1944.0,1326.8 1945.6,1303.7 1947.1,1311.6 1948.7,1292.4 1950.3,1292.4 1951.9,1317.4 1953.5,1292.4 1955.2,1317.4 1956.8,1292.4 1958.4,1316.8 1960.0,1311.2 1961.5,1296.0 1963.0,1333.0 1964.4,1305.1 1965.9,1339.3 1967.4,1339.3 1968.9,1303.7 1970.4,1321.8 1972.0,1283.8 1973.5,1295.2 1975.0,1264.3 1976.6,1264.3 1978.2,1277.0 1979.9,1264.3 1981.5,1276.0 1983.1,1264.3 1984.8,1279.5 1986.4,1264.3 1988.0,1264.3 1989.5,1286.8 1991.0,1269.9 1992.5,1297.8 1994.0,1269.8 1995.5,1296.0 1997.1,1312.4 1998.7,1283.0 2000.2,1327.4 2001.8,1295.5 2003.4,1328.3 2005.0,1311.2 2006.5,1316.4 2008.0,1361.2 2009.4,1332.2 2010.9,1382.4 2012.4,1382.4 2013.9,1336.3 2015.4,1361.0 2017.0,1316.2 2018.5,1344.3 2020.0,1296.0 2021.5,1270.0 2023.0,1311.1 2024.4,1270.0 2025.9,1308.7 2027.4,1270.0 2028.9,1268.0 2030.4,1328.2 2031.9,1286.4 2033.4,1360.0 2034.9,1360.0 2036.4,1311.5 2037.9,1337.5 2039.4,1279.6 2040.9,1310.5 2042.4,1268.0 2044.3,1260.6 2046.1,1302.2 2048.0,1260.6 2049.5,1258.7 2051.0,1308.0 2052.5,1292.2 2054.0,1348.6 2055.5,1348.6 2057.0,1298.7 2058.5,1336.6 2060.0,1276.8 2061.5,1294.4 2063.0,1258.7 2064.6,1241.8 2066.2,1274.4 2067.8,1241.8 2069.4,1280.4 2071.0,1241.8 2072.6,1257.5 2074.2,1241.8 2075.7,1243.3 2077.2,1312.3 2078.7,1251.7 2080.2,1330.0 2081.7,1330.0 2083.2,1283.3 2084.7,1335.9 2086.2,1256.6 2087.7,1301.5 2089.2,1255.0 2090.7,1256.4 2092.2,1350.3 2093.7,1284.9 2095.2,1378.6 2096.7,1378.6 2098.1,1307.7 2099.5,1352.7 2100.9,1285.7 2102.3,1279.3 2103.7,1297.3 2105.2,1241.8 2106.6,1268.6 2108.0,1241.8 2109.9,1228.7 2111.7,1311.2 2113.6,1311.2 2115.5,1250.3 2117.3,1287.3 2119.2,1228.7 2120.8,1228.7 2122.3,1270.7 2123.8,1228.7 2125.4,1264.4 2126.9,1231.1 2128.5,1262.4" fill="none" stroke="#ff00ff" stroke-width="10.0" stroke-linejoin="miter" stroke-miterlimit="2"/>
<polyline points="443.4,404.7 444.8,426.4 446.2,404.7 447.6,444.9 449.0,435.0 450.7,439.0 452.3,475.7 454.0,470.0 455.8,480.5 457.5,517.0 459.2,544.5 461.0,552.0 462.6,555.2 464.1,592.6 465.7,587.0 467.4,589.8 469.0,618.0 470.5,620.0 472.0,613.4 473.5,620.0 475.0,620.0 476.5,615.0 478.0,626.2 479.5,615.0 481.0,615.0 482.5,630.3 484.0,618.7 485.5,640.8 487.0,629.7 488.5,650.0 490.0,646.0 491.8,643.4 493.5,662.6 495.2,655.8 497.0,669.0 498.6,680.1 500.2,670.6 501.9,689.6 503.5,678.1 505.1,692.7 506.7,692.7 508.4,682.8 510.2,696.4 512.0,678.6 513.7,685.7 515.4,694.6 517.0,686.3 518.7,697.4 520.3,690.4 522.0,697.4 523.6,697.4 525.2,690.9 526.8,697.4 528.4,686.4 530.0,688.0 531.8,690.5 533.5,673.0 535.2,679.7 537.0,664.6 538.8,650.2 540.5,662.2 542.2,641.2 544.0,643.6 545.6,647.5 547.2,627.0 548.8,642.3 550.3,615.7 551.9,636.9 553.5,622.5 555.0,602.1 556.5,611.8 558.0,594.0 559.2,551.2 560.5,540.5 562.2,529.9 564.0,482.0 565.8,449.4 567.5,447.0 568.8,439.4 570.0,400.0 572.0,290.0 574.0,254.7 576.0,254.0 577.5,298.4 579.0,300.0 580.3,319.3 581.6,400.0 581.6,486.7 583.3,562.8 585.0,564.0 586.7,547.9 588.3,633.5 590.0,611.0 592.0,657.6 593.2,665.9 594.5,702.0 596.0,717.1 597.5,694.4 599.0,713.8 600.6,731.8 602.2,710.8 603.8,739.6 605.4,725.8 607.0,739.6 608.7,739.6 610.3,727.7 612.0,732.6 613.6,735.3 615.2,720.8 616.8,734.0 618.4,718.5 620.0,718.5 621.6,725.0 623.2,718.5 624.8,730.3 626.4,722.8 628.0,739.8 629.6,735.0 631.3,746.2 633.0,765.0 634.5,772.0 636.0,764.1 637.5,772.0 639.0,772.0 640.5,766.9 642.0,771.0 643.5,762.4 645.0,769.8 646.5,758.0 648.0,763.9 649.5,758.0 651.1,752.8 652.6,769.4 654.2,752.8 655.8,765.9 657.3,757.9 658.9,772.0 660.5,762.4 662.0,772.0 663.6,767.7 666.0,739.6 667.8,723.7 669.5,736.5 671.2,723.4 673.0,723.0 674.5,716.3 676.1,691.9 677.6,688.0 679.1,689.3 680.5,667.3 682.0,674.0 683.8,676.7 685.5,664.6 687.2,676.9 689.0,664.6 691.0,670.9 693.0,692.7 694.5,706.5 696.0,711.5 698.0,723.8 700.0,746.6 701.8,756.6 703.5,750.1 705.2,769.3 707.0,765.0 708.5,773.6 710.0,798.0 712.0,839.4 714.0,850.0 715.6,837.9 717.2,860.5 718.8,840.0 720.4,859.8 722.0,853.7 723.8,850.0 725.5,873.1 727.2,855.2 729.0,865.0 730.6,893.7 732.2,887.4 733.8,910.0 735.3,910.0 736.9,891.1 738.4,903.3 739.9,879.5 741.5,902.5 743.0,881.8 744.6,872.0 746.2,884.9 747.8,872.0 749.4,894.2 751.0,872.0 752.6,872.0 754.1,908.7 755.5,900.2 757.0,938.0 758.8,954.0 760.5,902.1 762.2,930.9 764.0,898.0 765.6,900.9 767.2,949.4 768.8,905.6 770.4,984.8 772.0,955.8 773.6,984.8 775.4,994.0 777.2,925.6 778.9,950.5 780.7,910.0 782.3,910.0 783.9,973.0 785.6,942.5 787.2,994.0 788.8,994.0 790.3,950.5 791.8,973.5 793.2,910.0 794.7,910.0 796.2,939.5 797.8,902.5 799.4,940.2 800.9,902.5 802.5,930.9 804.0,924.0 805.8,897.3 807.6,924.0 809.4,902.5 810.9,888.0 812.5,899.6 814.0,883.7 815.8,893.0 817.5,941.8 819.2,913.9 821.0,961.0 822.8,959.9 824.5,902.3 826.2,954.6 828.0,909.5 829.5,909.5 831.0,982.5 832.5,965.4 834.0,1000.8 835.8,1000.8 837.5,937.4 839.2,969.9 841.0,930.6 842.6,930.6 844.2,947.5 845.8,930.6 847.4,963.3 849.0,937.6 850.8,930.6 852.5,979.8 854.2,959.3 856.0,979.8 857.4,979.8 858.9,956.2 860.3,968.3 861.8,940.0 863.2,947.0 865.0,962.8 866.8,947.0 868.5,969.8 870.3,961.0 872.6,1022.0 874.2,1025.2 875.7,1057.0 877.3,1057.0 878.7,1019.8 880.1,1041.4 881.6,994.4 883.0,1003.0 884.5,1017.0 886.0,961.0 887.5,984.1 889.0,961.0 890.8,968.0 892.5,1018.2 894.2,993.4 896.0,1031.0 897.8,1031.0 899.5,989.9 901.2,1016.2 903.0,989.0 904.8,966.7 906.5,976.7 908.2,925.9 910.0,937.6 911.6,944.1 913.2,895.0 914.8,890.8 916.3,888.7 917.9,848.6 919.4,851.0 920.9,866.9 922.5,848.6 924.0,848.6 925.6,860.4 927.2,849.7 928.8,867.0 930.5,876.3 932.3,853.0 934.0,877.6 935.8,865.0 937.4,869.9 938.9,909.3 940.5,902.5 941.8,917.0 943.0,977.4 944.8,976.4 946.5,936.5 948.2,948.5 950.0,926.0 952.0,1003.0 953.8,995.4 955.5,1029.6 957.2,998.3 959.0,1022.0 960.7,1050.0 962.3,1034.5 964.0,1054.7 965.5,1068.6 967.1,1032.2 968.6,1057.3 970.2,1022.0 971.8,1050.6 973.3,1026.6 974.9,1034.7 976.4,1081.0 978.0,1078.0 979.6,1066.2 981.1,1103.0 982.7,1103.0 984.2,1080.1 985.8,1096.4 987.4,1058.2 988.9,1097.0 990.5,1046.8 992.0,1046.8 993.8,1089.6 995.5,1080.1 997.2,1140.5 999.0,1140.5 1000.6,1098.9 1002.1,1134.5 1003.7,1086.7 1005.5,1086.7 1007.2,1146.8 1009.0,1126.4 1010.8,1159.0 1012.5,1168.6 1014.3,1128.0 1016.0,1151.6 1017.8,1124.0 1019.5,1124.0 1021.3,1155.8 1023.0,1138.6 1024.8,1168.6 1026.5,1202.7 1028.3,1210.8 1029.9,1198.0 1031.6,1220.1 1033.2,1204.0 1034.9,1225.2 1036.5,1213.0 1038.3,1210.8 1040.0,1235.3 1041.8,1224.2 1043.6,1234.0 1045.3,1239.9 1046.9,1230.2 1048.6,1242.5 1050.3,1233.8 1052.0,1243.6 1053.6,1235.2 1055.3,1243.6 1056.9,1234.7 1058.4,1209.0 1060.0,1206.0 1061.5,1211.2 1063.1,1206.0 1064.7,1215.0 1066.2,1206.0 1067.8,1211.3 1069.3,1206.0 1071.0,1208.4 1072.8,1226.2 1074.5,1215.8 1076.3,1234.0 1077.9,1254.2 1079.4,1249.5 1081.0,1267.0 1082.6,1269.3 1084.1,1258.4 1085.7,1269.3 1087.3,1258.4 1088.8,1269.3 1090.4,1269.3 1092.7,1243.6 1094.2,1243.6 1095.7,1267.3 1097.1,1251.2 1098.6,1269.3 1100.2,1281.6 1101.9,1271.5 1103.5,1294.0 1105.2,1282.1 1106.8,1295.0 1108.3,1305.4 1109.9,1287.1 1111.4,1308.8 1112.9,1295.8 1114.5,1309.0 1116.0,1309.0 1117.6,1295.5 1119.2,1316.2 1120.8,1286.9 1122.3,1299.5 1123.9,1285.7 1125.5,1285.7 1127.1,1299.1 1128.6,1287.0 1130.2,1316.8 1131.8,1298.4 1133.3,1320.7 1134.9,1320.8 1136.6,1307.9 1138.2,1317.0 1139.9,1300.7 1141.6,1307.9 1143.3,1289.5 1144.9,1296.6 1146.6,1288.0 1148.2,1288.0 1149.7,1302.2 1151.3,1288.0 1152.9,1302.5 1154.4,1288.0 1156.0,1295.0 1157.5,1304.6 1159.1,1290.6 1160.7,1307.8 1162.2,1290.2 1163.8,1306.1 1165.3,1302.0 1166.9,1296.9 1168.4,1311.5 1170.0,1302.0 1171.6,1321.8 1173.1,1307.0 1174.7,1325.7 1176.3,1313.3 1177.8,1327.9 1179.4,1327.9 1181.1,1319.1 1182.7,1333.3 1184.3,1306.2 1186.0,1314.7 1187.5,1330.6 1189.0,1316.8 1190.5,1342.3 1191.9,1326.1 1193.4,1351.6 1194.9,1333.1 1196.4,1351.6 1198.0,1346.4 1199.7,1318.5 1201.3,1332.3 1203.0,1298.3 1204.6,1298.3 1206.2,1305.6 1207.9,1298.3 1209.5,1316.3 1211.2,1298.3 1212.8,1304.4 1214.4,1312.4 1216.1,1298.3 1217.7,1319.4 1219.4,1300.5 1221.0,1316.7 1222.6,1328.3 1224.3,1323.2 1225.9,1350.5 1227.6,1339.9 1229.2,1351.6 1230.7,1351.6 1232.2,1332.2 1233.8,1339.7 1235.3,1325.0 1236.8,1315.3 1238.4,1323.7 1240.0,1302.7 1241.5,1308.5 1243.1,1318.5 1244.8,1300.3 1246.4,1310.5 1248.1,1300.3 1249.7,1300.3 1251.2,1319.7 1252.8,1309.4 1254.3,1331.0 1255.8,1331.0 1257.3,1314.9 1258.9,1330.1 1260.5,1307.0 1262.0,1312.6 1263.6,1312.2 1265.3,1287.5 1266.9,1304.9 1268.6,1275.1 1270.2,1275.7 1271.7,1278.6 1273.2,1259.3 1274.8,1276.8 1276.3,1259.3 1277.8,1259.3 1279.4,1284.5 1281.0,1269.2 1282.5,1290.0 1284.0,1300.3 1285.5,1284.9 1287.1,1300.3 1288.6,1300.3 1290.2,1290.7 1291.9,1298.5 1293.5,1282.0 1295.2,1298.7 1296.8,1282.0 1298.3,1282.0 1299.9,1303.5 1301.5,1290.2 1303.0,1304.4 1304.6,1315.5 1306.2,1306.9 1307.8,1332.0 1309.4,1324.0 1311.0,1339.3 1312.7,1339.3 1314.3,1322.8 1316.0,1334.6 1317.6,1313.7 1319.3,1320.8 1320.8,1326.2 1322.4,1309.9 1324.0,1314.5 1325.5,1306.5 1327.0,1301.1 1328.6,1307.2 1330.1,1296.2 1331.7,1306.6 1333.2,1296.2 1334.7,1302.1 1336.3,1296.2 1337.8,1296.2 1339.4,1304.9 1341.1,1294.8 1342.7,1307.1 1344.4,1302.7 1346.0,1308.5 1347.6,1308.5 1349.3,1293.4 1350.9,1301.4 1352.6,1288.9 1354.2,1292.1 1355.8,1295.2 1357.5,1282.9 1359.1,1291.1 1360.8,1279.8 1362.4,1279.8 1364.0,1297.1 1365.7,1287.1 1367.3,1305.0 1369.0,1296.5 1370.6,1310.6 1372.2,1310.6 1373.9,1288.3 1375.5,1307.5 1377.2,1280.4 1378.8,1284.0 1380.3,1295.7 1381.9,1271.6 1383.5,1289.5 1385.0,1271.6 1387.0,1285.5 1389.0,1312.6 1390.5,1309.7 1392.1,1276.3 1393.7,1295.8 1395.2,1273.7 1396.6,1247.5 1397.9,1264.2 1399.3,1232.7 1400.9,1222.5 1402.6,1249.2 1404.2,1222.5 1405.9,1233.9 1407.5,1222.5 1408.9,1225.3 1410.2,1276.7 1411.6,1279.8 1413.2,1265.8 1414.9,1279.8 1416.5,1265.7 1418.2,1279.8 1419.8,1267.5 1421.3,1248.9 1422.9,1270.1 1424.5,1235.0 1426.0,1243.0 1427.5,1243.3 1429.0,1226.7 1430.5,1232.0 1432.0,1222.5 1433.5,1210.8 1435.1,1220.3 1436.7,1202.7 1438.2,1206.0 1439.7,1215.7 1441.2,1196.2 1442.8,1214.1 1444.3,1194.1 1445.8,1199.0 1447.5,1201.4 1449.3,1169.4 1451.0,1183.9 1452.8,1164.0 1454.5,1147.2 1456.3,1157.2 1458.0,1122.2 1459.8,1121.8 1461.5,1128.8 1463.3,1092.4 1465.0,1108.8 1466.8,1084.3 1468.4,1069.9 1469.9,1094.3 1471.5,1062.8 1473.1,1077.6 1474.6,1052.1 1476.2,1058.5 1477.8,1053.8 1479.4,1010.9 1481.0,1000.0 1482.0,971.3 1483.6,982.1 1485.1,927.3 1486.7,936.0 1488.5,921.7 1490.3,889.3 1491.8,871.6 1493.4,886.3 1494.9,864.6 1496.5,879.3 1498.0,841.9 1499.6,854.2 1501.3,862.6 1503.0,832.0 1504.5,832.0 1506.0,865.2 1507.5,848.0 1509.0,877.6 1510.6,877.6 1512.1,858.1 1513.7,875.7 1515.3,851.3 1516.8,866.6 1518.4,854.2 1520.2,854.2 1521.9,870.7 1523.7,856.9 1525.4,875.3 1526.9,898.6 1528.5,887.1 1530.0,908.0 1531.8,925.1 1533.5,908.6 1535.2,935.5 1537.0,931.5 1538.8,922.6 1540.5,955.9 1542.2,931.1 1544.0,948.0 1545.8,977.7 1547.6,983.0 1549.3,986.7 1551.0,1018.0 1552.2,1036.1 1553.5,1030.4 1555.2,1030.3 1557.0,1066.3 1558.8,1046.9 1560.5,1070.0 1562.1,1096.0 1563.6,1078.2 1565.2,1105.4 1566.8,1117.9 1568.3,1097.7 1569.9,1128.7 1571.5,1110.0 1573.0,1141.4 1574.6,1126.5 1576.3,1121.1 1578.1,1157.5 1579.8,1145.2 1581.6,1164.0 1583.3,1187.6 1585.1,1160.9 1586.8,1202.6 1588.6,1194.4 1590.2,1185.1 1591.7,1222.5 1593.3,1222.5 1595.0,1196.7 1596.8,1214.4 1598.5,1180.9 1600.3,1187.4 1602.1,1184.5 1603.8,1157.0 1605.6,1175.0 1607.4,1154.6 1609.1,1154.6 1610.7,1163.6 1612.4,1154.6 1614.0,1163.2 1615.7,1154.6 1617.3,1171.2 1619.0,1157.0 1620.8,1155.0 1622.5,1176.7 1624.2,1163.6 1626.0,1182.7 1627.7,1212.7 1629.5,1209.6 1631.2,1247.5 1632.8,1264.4 1634.4,1239.5 1636.0,1268.8 1637.6,1249.4 1639.2,1270.1 1640.8,1248.4 1642.4,1266.2 1644.0,1290.6 1645.5,1255.4 1647.1,1292.5 1648.7,1279.9 1650.2,1300.0 1651.8,1300.0 1653.3,1278.6 1654.8,1289.5 1656.3,1255.5 1657.8,1278.0 1659.3,1251.2 1660.8,1252.1 1662.3,1278.4 1663.8,1259.4 1665.3,1296.3 1666.8,1286.8 1668.4,1272.4 1669.9,1308.5 1671.5,1275.3 1673.1,1311.8 1674.6,1287.8 1676.2,1301.8 1678.1,1330.4 1679.9,1310.3 1681.8,1345.0 1683.3,1345.0 1684.8,1298.7 1686.3,1309.6 1687.8,1268.0 1689.3,1268.0 1690.7,1302.1 1692.2,1269.6 1693.6,1308.0 1695.0,1301.8 1696.5,1285.9 1698.0,1347.3 1699.4,1326.1 1700.9,1358.0 1702.4,1358.0 1703.9,1327.9 1705.4,1364.8 1707.0,1324.2 1708.5,1359.0 1710.0,1333.6 1711.5,1333.6 1713.1,1366.5 1714.7,1342.0 1716.2,1370.6 1717.8,1354.1 1719.3,1373.0 1720.8,1373.0 1722.4,1356.1 1723.9,1373.0 1725.5,1348.1 1727.0,1368.5 1728.6,1348.6 1730.2,1332.0 1731.9,1355.0 1733.5,1307.8 1735.1,1333.9 1736.7,1300.0 1738.4,1331.8 1740.0,1300.0 1741.8,1300.0 1743.7,1353.8 1745.5,1348.6 1747.1,1346.2 1748.6,1386.9 1750.2,1350.4 1751.8,1398.6 1753.3,1361.6 1754.9,1401.0 1756.4,1401.0 1757.9,1334.4 1759.4,1368.4 1760.9,1315.0 1762.4,1315.0 1764.0,1343.7 1765.5,1315.0 1767.1,1367.8 1768.6,1333.6 1770.2,1377.9 1771.7,1358.0 1773.1,1330.6 1774.6,1362.2 1776.0,1315.0 1777.4,1320.5 1779.0,1346.2 1780.7,1317.2 1782.3,1365.4 1784.0,1327.8 1785.6,1367.4 1787.2,1332.6 1788.9,1367.4 1790.5,1367.4 1792.1,1337.7 1793.7,1375.9 1795.3,1321.7 1796.9,1337.9 1798.5,1290.5 1800.1,1331.6 1801.7,1290.5 1803.2,1293.6 1804.8,1340.5 1806.3,1314.2 1807.9,1378.8 1809.5,1351.9 1811.0,1386.0 1812.7,1404.8 1814.3,1380.2 1816.0,1404.8 1817.6,1371.3 1819.2,1404.8 1820.9,1389.6 1822.5,1404.8 1824.2,1404.8 1825.7,1370.4 1827.2,1404.0 1828.7,1372.8 1830.2,1387.7 1831.7,1367.4 1833.6,1345.3 1835.4,1359.7 1837.3,1343.0 1838.7,1339.7 1840.2,1368.2 1841.6,1355.2 1843.0,1376.7 1844.6,1375.5 1846.2,1343.6 1847.8,1356.4 1849.4,1330.0 1851.0,1330.0 1852.5,1343.2 1854.1,1330.0 1855.6,1347.9 1857.2,1330.0 1858.7,1345.0 1860.2,1357.4 1861.8,1340.1 1863.3,1369.7 1864.9,1338.9 1866.5,1373.4 1868.0,1360.0 1869.6,1344.9 1871.2,1382.4 1872.8,1361.5 1874.3,1395.5 1875.9,1380.3 1877.5,1395.5 1879.0,1393.1 1880.5,1359.0 1882.0,1369.8 1883.5,1330.0 1885.0,1330.0 1886.5,1369.9 1888.1,1340.2 1889.7,1388.6 1891.2,1382.1 1892.8,1419.1 1894.3,1423.6 1895.8,1409.4 1897.3,1423.6 1898.8,1387.8 1900.3,1423.6 1901.8,1395.5 1903.4,1387.7 1905.0,1411.1 1906.6,1389.0 1908.2,1415.3 1909.8,1379.1 1911.4,1411.5 1913.0,1401.0 1914.6,1373.6 1916.1,1401.0 1917.7,1366.3 1919.3,1381.2 1920.8,1359.8 1922.4,1358.0 1924.0,1371.7 1925.5,1348.6 1927.1,1368.8 1928.7,1348.6 1930.2,1360.2 1931.8,1348.6 1933.3,1346.4 1934.8,1383.8 1936.3,1359.1 1937.8,1392.5 1939.3,1393.6 1940.9,1370.7 1942.5,1393.6 1944.1,1360.9 1945.7,1375.2 1947.3,1343.0 1948.9,1355.4 1950.5,1343.0 1952.1,1343.0 1953.7,1355.2 1955.2,1343.0 1956.8,1361.0 1958.4,1346.5 1960.0,1358.0 1961.6,1358.0 1963.2,1345.3 1964.8,1358.0 1966.4,1342.2 1968.0,1355.4 1969.6,1331.4 1971.2,1345.0 1973.1,1343.2 1974.9,1315.0 1976.8,1315.0 1978.3,1333.5 1979.8,1320.7 1981.3,1352.8 1982.8,1328.8 1984.3,1358.0 1985.7,1352.8 1987.2,1316.8 1988.6,1337.8 1990.0,1307.4 1991.5,1307.4 1993.1,1338.0 1994.7,1307.4 1996.2,1345.2 1997.8,1320.5 1999.3,1348.6 2000.8,1374.6 2002.4,1346.4 2003.9,1372.5 2005.5,1355.9 2007.0,1382.7 2008.6,1376.7 2010.1,1369.6 2011.6,1396.8 2013.0,1376.9 2014.5,1405.0 2016.0,1405.0 2017.6,1378.3 2019.2,1400.2 2020.8,1333.4 2022.3,1374.4 2023.9,1319.1 2025.5,1318.7 2027.1,1350.6 2028.6,1316.8 2030.2,1359.2 2031.8,1334.5 2033.3,1374.6 2034.9,1367.4 2036.5,1336.8 2038.1,1363.1 2039.7,1330.9 2041.2,1367.0 2042.8,1316.8 2044.4,1351.3 2046.0,1316.8 2047.6,1316.8 2049.2,1349.4 2050.8,1316.8 2052.3,1361.2 2053.9,1323.3 2055.5,1339.3 2057.3,1385.5 2059.2,1348.4 2061.0,1397.3 2062.6,1397.3 2064.2,1335.4 2065.8,1369.3 2067.3,1297.4 2068.9,1323.6 2070.5,1288.7 2072.0,1288.7 2073.5,1344.1 2075.0,1321.1 2076.5,1397.3 2078.0,1382.4 2079.6,1339.2 2081.1,1393.6 2082.7,1298.3 2084.2,1362.6 2085.8,1300.7 2087.3,1305.5 2088.8,1338.4 2090.3,1307.7 2091.8,1380.9 2093.3,1358.4 2094.8,1393.6 2096.4,1393.6 2098.0,1350.8 2099.6,1384.7 2101.2,1326.1 2102.8,1364.2 2104.4,1312.2 2106.0,1322.4 2107.6,1353.5 2109.1,1296.9 2110.7,1367.4 2112.3,1308.2 2113.8,1359.8 2115.4,1345.0 2116.9,1319.4 2118.4,1336.1 2120.0,1285.0 2121.5,1305.5 2123.0,1285.0 2124.5,1285.0 2126.0,1303.9 2127.4,1285.0 2128.9,1301.0 2130.4,1292.4" fill="none" stroke="#0000ff" stroke-width="10.0" stroke-linejoin="miter" stroke-miterlimit="2"/>
<polyline points="444.6,802.0 446.3,819.8 448.0,821.0 449.5,817.1 451.0,836.5 452.5,825.2 454.0,842.0 455.8,862.6 457.5,872.0 459.2,882.0 461.0,905.0 462.8,923.6 464.5,928.6 466.3,922.9 468.2,940.0 470.0,940.0 471.6,936.3 473.2,943.1 474.9,934.6 476.5,945.0 478.1,929.5 479.7,938.0 481.4,944.7 483.2,938.6 484.9,955.5 486.7,952.0 488.2,952.3 489.6,965.7 491.1,963.8 492.6,970.8 494.4,978.7 496.1,972.4 497.9,987.3 499.6,984.8 501.4,983.5 503.1,989.5 504.9,983.4 506.7,989.5 508.4,990.6 510.2,983.7 512.0,986.8 513.7,983.6 515.4,983.6 517.0,990.1 518.7,988.7 520.3,995.0 522.0,995.0 523.6,992.7 525.2,995.0 526.8,987.7 528.4,995.0 530.0,990.7 531.6,986.8 533.1,989.5 534.7,982.4 536.3,989.5 537.8,980.4 539.4,982.5 541.0,985.3 542.7,975.4 544.3,982.7 546.0,971.4 547.6,974.0 549.3,975.9 551.1,964.7 552.8,974.2 554.5,964.0 556.3,974.2 558.0,968.4 559.9,946.9 561.7,938.0 564.0,898.0 565.8,886.1 567.5,839.6 569.2,799.9 571.0,797.5 572.8,807.9 574.6,795.0 576.2,795.0 577.7,825.0 579.3,814.0 581.0,828.0 582.8,856.0 585.0,895.8 586.8,928.4 588.6,933.3 590.3,933.5 592.0,975.5 593.2,1004.9 594.5,1006.0 596.3,994.3 598.2,1022.6 600.0,1020.0 601.8,1018.2 603.5,1031.7 605.2,1018.5 607.0,1031.7 608.5,1031.2 610.0,1017.1 611.4,1026.2 612.9,1012.1 614.4,1015.0 615.8,1019.6 617.2,1011.7 618.6,1015.7 620.0,1011.7 621.8,1011.7 623.5,1019.4 625.2,1012.6 627.0,1022.0 628.5,1033.6 630.0,1027.0 631.5,1041.9 633.0,1043.4 634.8,1037.7 636.5,1049.0 638.2,1044.6 640.0,1049.0 641.7,1049.0 643.3,1039.2 645.0,1047.4 646.6,1032.8 648.3,1032.8 649.7,1040.2 651.1,1033.9 652.6,1046.7 654.0,1041.0 655.5,1035.7 657.0,1051.3 658.5,1044.5 660.0,1052.7 661.6,1046.2 663.1,1028.5 664.7,1024.6 666.5,1027.0 668.2,1015.3 670.0,1027.8 671.8,1017.6 673.2,1008.9 674.7,1018.2 676.1,1008.0 677.6,1008.0 679.2,1021.0 680.7,1010.1 682.3,1024.6 684.6,998.9 686.2,1002.4 687.7,996.0 689.3,996.0 690.9,1005.6 692.4,999.4 694.0,1013.0 695.6,1027.8 697.1,1018.5 698.7,1031.7 700.5,1045.4 702.2,1030.9 704.0,1051.1 705.7,1045.7 707.3,1042.8 708.8,1065.4 710.4,1064.5 712.2,1078.5 714.0,1111.0 716.3,1144.0 718.0,1124.5 719.8,1092.5 721.3,1092.5 722.9,1107.6 724.4,1092.5 725.9,1102.2 727.5,1092.5 729.0,1095.0 730.6,1111.6 732.2,1097.6 733.8,1118.0 735.2,1118.0 736.7,1107.2 738.1,1115.6 739.6,1103.0 741.0,1104.0 742.8,1109.6 744.5,1096.8 746.2,1110.3 748.0,1106.6 749.5,1096.9 751.1,1109.2 752.6,1090.0 754.3,1102.5 756.0,1139.4 757.8,1139.4 759.5,1120.0 761.2,1133.6 763.0,1113.6 764.5,1113.6 766.0,1129.3 767.5,1113.6 769.0,1125.0 770.5,1144.5 772.1,1133.6 773.6,1158.0 775.4,1158.0 777.2,1126.0 778.9,1140.1 780.7,1123.0 782.2,1123.0 783.8,1144.3 785.4,1126.8 786.9,1143.1 788.5,1125.8 790.0,1144.0 791.8,1147.4 793.5,1130.4 795.2,1139.2 797.0,1127.7 798.8,1127.7 800.5,1148.8 802.2,1135.1 804.0,1148.8 805.5,1148.8 807.0,1131.0 808.8,1119.4 810.5,1145.1 812.2,1119.4 814.0,1119.4 815.8,1152.0 817.5,1144.9 819.2,1202.0 821.0,1203.7 822.6,1168.1 824.2,1170.0 825.8,1131.0 827.4,1131.0 829.1,1175.4 830.7,1141.7 832.4,1206.0 834.0,1206.0 835.5,1180.2 836.9,1203.4 838.3,1152.2 839.8,1150.0 841.5,1168.0 843.3,1143.0 845.0,1154.6 846.8,1143.0 848.4,1143.0 849.9,1154.9 851.5,1143.0 853.1,1160.0 854.6,1144.2 856.2,1152.0 857.7,1165.2 859.1,1155.2 860.5,1168.6 862.0,1168.6 863.5,1156.6 865.0,1164.7 866.5,1145.0 868.0,1145.0 870.3,1224.8 871.9,1236.5 873.6,1212.3 875.2,1236.5 876.9,1223.9 878.5,1236.5 880.2,1236.5 882.0,1188.2 883.8,1216.2 885.5,1189.7 887.0,1157.8 888.5,1179.0 890.0,1147.5 891.9,1157.8 893.7,1210.8 895.5,1222.5 897.2,1190.3 899.0,1222.5 900.7,1222.5 902.2,1190.2 903.7,1211.0 905.1,1165.3 906.6,1171.0 908.0,1184.6 909.5,1142.0 911.0,1159.1 912.4,1140.5 913.9,1117.5 915.3,1123.5 916.8,1099.5 918.3,1093.7 919.9,1107.6 921.4,1092.0 923.0,1092.0 924.6,1106.7 926.2,1092.0 927.8,1114.5 929.4,1092.0 931.0,1098.4 932.6,1126.2 934.2,1126.0 935.8,1164.0 937.4,1194.2 938.9,1162.6 940.5,1194.4 942.2,1199.4 944.0,1160.3 945.8,1177.0 947.5,1150.0 949.2,1170.1 951.0,1210.8 952.6,1229.5 954.2,1197.7 955.8,1229.5 957.4,1209.7 959.0,1224.8 960.6,1235.9 962.2,1216.7 963.8,1245.2 965.4,1218.1 967.0,1249.8 968.6,1229.5 970.3,1219.1 971.9,1248.6 973.6,1236.9 975.3,1258.2 977.0,1239.7 978.6,1262.3 980.3,1262.3 981.9,1231.5 983.4,1242.8 985.0,1210.8 986.5,1193.7 988.0,1216.5 989.4,1192.0 990.9,1192.0 992.6,1248.1 994.4,1257.6 996.1,1251.5 997.9,1289.3 999.6,1270.3 1001.4,1290.4 1002.9,1287.4 1004.5,1231.9 1006.0,1234.0 1007.5,1256.3 1009.0,1231.9 1010.5,1253.4 1012.1,1231.9 1013.6,1240.5 1015.1,1231.9 1016.6,1231.9 1018.3,1286.7 1020.0,1292.7 1021.4,1259.2 1022.9,1287.2 1024.3,1252.5 1025.8,1273.6 1027.2,1248.2 1029.0,1269.1 1030.7,1323.2 1032.3,1333.5 1034.0,1307.0 1035.6,1340.8 1037.3,1323.3 1038.9,1334.9 1040.5,1349.0 1042.0,1323.2 1043.6,1349.0 1045.1,1323.3 1046.7,1346.6 1048.2,1342.0 1049.8,1332.1 1051.5,1349.0 1053.1,1342.7 1054.8,1349.0 1056.4,1349.0 1058.8,1320.8 1060.3,1320.8 1061.8,1330.5 1063.3,1320.8 1064.8,1333.0 1066.3,1320.8 1067.8,1332.2 1069.3,1327.9 1070.9,1322.7 1072.4,1349.0 1074.0,1335.0 1075.6,1353.7 1077.2,1363.7 1078.9,1348.4 1080.5,1372.0 1082.1,1356.3 1083.7,1372.0 1085.4,1360.8 1087.0,1372.0 1088.8,1376.7 1090.5,1345.7 1092.2,1363.4 1094.0,1344.6 1095.5,1344.6 1097.0,1365.1 1098.5,1350.9 1100.0,1373.8 1101.5,1362.6 1103.0,1376.7 1104.5,1380.6 1106.1,1366.9 1107.7,1383.5 1109.2,1364.6 1110.8,1373.5 1112.3,1365.2 1114.0,1365.2 1115.8,1383.5 1117.5,1371.9 1119.2,1383.5 1120.7,1391.0 1122.2,1368.2 1123.8,1386.3 1125.3,1366.8 1126.8,1388.7 1128.3,1372.0 1130.0,1358.3 1131.8,1397.7 1133.5,1381.8 1135.2,1399.6 1137.0,1382.0 1138.9,1336.3 1140.7,1322.0 1142.2,1359.8 1143.7,1341.2 1145.1,1387.0 1146.6,1393.4 1148.3,1372.2 1149.9,1393.4 1151.6,1362.4 1153.3,1393.4 1155.0,1363.8 1156.6,1393.4 1158.3,1374.7 1159.9,1374.7 1161.4,1388.3 1163.0,1374.7 1164.6,1393.4 1166.1,1374.7 1167.7,1390.0 1169.5,1390.0 1171.2,1374.4 1173.0,1390.0 1174.7,1380.0 1176.4,1369.5 1178.1,1382.0 1179.9,1365.6 1181.6,1375.3 1183.3,1365.2 1185.0,1365.2 1186.8,1382.8 1188.5,1375.3 1190.2,1385.8 1191.9,1402.9 1193.6,1393.3 1195.3,1420.2 1197.0,1420.2 1198.8,1393.0 1200.5,1404.3 1202.2,1374.7 1204.0,1372.0 1205.5,1384.2 1207.0,1372.0 1208.5,1383.7 1210.0,1372.0 1211.5,1384.8 1213.0,1372.0 1214.8,1372.0 1216.5,1388.0 1218.2,1372.8 1220.0,1385.8 1221.5,1418.9 1223.1,1374.9 1224.6,1419.8 1226.1,1390.4 1227.7,1431.7 1229.2,1431.7 1230.8,1398.6 1232.5,1426.4 1234.1,1367.5 1235.8,1390.9 1237.4,1347.0 1239.3,1351.9 1241.1,1431.7 1243.0,1431.7 1244.7,1379.0 1246.4,1415.9 1248.1,1350.9 1249.8,1367.5 1251.5,1402.2 1253.2,1367.5 1254.9,1404.5 1256.6,1395.0 1258.1,1369.1 1259.7,1395.0 1261.2,1382.7 1262.7,1395.0 1264.3,1369.8 1265.8,1385.8 1267.3,1395.0 1268.9,1369.7 1270.4,1384.7 1271.9,1365.2 1273.5,1373.4 1275.0,1365.2 1276.6,1365.2 1278.3,1375.7 1279.9,1366.7 1281.5,1387.8 1283.1,1377.4 1284.8,1388.0 1286.4,1388.0 1288.0,1379.5 1289.7,1389.4 1291.3,1379.1 1293.0,1386.9 1294.6,1370.6 1296.3,1387.8 1297.9,1379.0 1299.4,1379.0 1300.9,1395.1 1302.5,1379.0 1304.0,1395.8 1305.5,1383.2 1307.0,1390.4 1308.5,1406.6 1310.1,1400.2 1311.6,1420.2 1313.1,1420.2 1314.7,1406.2 1316.2,1412.2 1317.7,1396.1 1319.3,1403.6 1320.8,1395.0 1322.3,1387.2 1323.9,1404.8 1325.4,1383.3 1326.9,1399.8 1328.5,1386.8 1330.0,1392.7 1331.6,1395.0 1333.3,1382.7 1334.9,1393.6 1336.5,1375.7 1338.1,1388.4 1339.8,1371.3 1341.4,1379.0 1343.0,1385.6 1344.7,1369.8 1346.3,1383.1 1348.0,1370.4 1349.6,1378.4 1351.3,1369.8 1352.9,1369.8 1354.6,1381.4 1356.3,1375.0 1358.1,1396.9 1359.8,1399.6 1361.5,1389.6 1363.2,1396.8 1364.9,1373.3 1366.6,1374.4 1368.2,1389.9 1369.9,1364.3 1371.5,1392.2 1373.1,1374.7 1374.7,1390.5 1376.4,1376.3 1378.0,1385.8 1379.8,1388.0 1381.5,1356.0 1383.2,1369.4 1385.0,1356.0 1386.5,1364.2 1388.1,1395.0 1389.6,1397.3 1391.1,1387.5 1392.6,1397.3 1394.2,1368.4 1395.7,1388.8 1397.2,1359.8 1398.7,1374.4 1401.0,1330.0 1402.6,1337.2 1404.2,1327.0 1405.9,1338.0 1407.5,1327.0 1409.0,1327.1 1410.5,1366.6 1412.1,1354.3 1413.6,1386.4 1415.3,1386.4 1417.0,1374.7 1418.8,1386.4 1420.5,1372.9 1422.2,1386.4 1423.9,1386.4 1425.3,1353.3 1426.6,1365.3 1428.0,1335.0 1429.6,1333.0 1431.2,1350.4 1432.8,1333.0 1434.4,1350.6 1436.0,1333.0 1437.7,1326.6 1439.3,1357.7 1441.0,1341.6 1442.6,1368.0 1444.3,1368.0 1445.7,1340.6 1447.0,1347.4 1448.4,1325.0 1450.0,1321.9 1451.5,1346.1 1453.0,1320.8 1454.6,1337.2 1456.1,1337.2 1457.7,1319.5 1459.2,1333.3 1460.7,1320.8 1462.8,1294.2 1464.2,1281.7 1465.6,1294.0 1467.0,1275.7 1468.6,1268.1 1470.2,1289.7 1471.8,1264.2 1473.4,1289.5 1475.0,1279.8 1476.4,1249.1 1477.8,1263.3 1479.2,1234.8 1480.6,1205.7 1481.9,1221.9 1483.3,1197.9 1484.7,1169.2 1486.0,1192.2 1487.4,1161.0 1488.9,1145.6 1490.5,1184.1 1492.0,1159.0 1493.5,1181.5 1495.0,1181.5 1496.6,1138.2 1498.2,1158.1 1499.7,1134.0 1501.2,1134.0 1502.8,1169.6 1504.3,1150.3 1505.8,1171.2 1507.4,1171.2 1509.1,1139.4 1510.7,1159.6 1512.4,1132.6 1514.0,1140.5 1515.6,1151.5 1517.2,1114.0 1518.9,1134.8 1520.5,1114.0 1522.4,1125.5 1524.3,1154.8 1525.9,1162.7 1527.6,1147.4 1529.2,1165.1 1530.9,1150.4 1532.5,1156.9 1533.9,1168.5 1535.2,1160.9 1536.6,1171.2 1538.3,1183.2 1540.0,1173.0 1541.7,1186.0 1543.4,1173.1 1545.1,1192.3 1546.8,1191.7 1548.9,1232.7 1550.5,1225.7 1552.1,1240.0 1553.8,1228.1 1555.4,1240.0 1557.0,1238.0 1558.5,1233.6 1560.0,1240.0 1561.5,1246.7 1563.0,1238.8 1564.5,1251.5 1566.0,1238.0 1567.5,1245.6 1569.0,1257.1 1570.5,1243.8 1572.0,1263.0 1573.5,1254.6 1575.0,1268.0 1576.5,1286.8 1578.0,1267.2 1579.5,1306.0 1581.0,1277.6 1582.5,1301.8 1584.1,1322.9 1585.6,1298.3 1587.2,1338.7 1588.8,1323.6 1590.3,1358.0 1591.9,1358.0 1593.5,1337.3 1595.0,1358.0 1596.6,1325.5 1598.1,1349.2 1599.7,1305.5 1601.2,1311.0 1603.1,1317.5 1604.9,1285.0 1606.8,1285.0 1608.3,1306.4 1609.8,1286.0 1611.3,1323.3 1612.8,1316.1 1614.3,1335.5 1615.8,1335.5 1617.3,1301.5 1618.8,1334.1 1620.3,1285.0 1621.8,1294.3 1623.4,1315.2 1624.9,1294.3 1626.5,1326.0 1628.1,1296.8 1629.6,1327.7 1631.2,1311.0 1633.1,1321.3 1634.9,1357.9 1636.8,1367.4 1638.2,1353.7 1639.6,1386.0 1641.0,1364.6 1642.4,1386.0 1644.0,1368.1 1645.5,1304.1 1647.1,1301.8 1648.7,1324.8 1650.2,1321.5 1651.8,1345.0 1653.4,1354.0 1654.9,1328.8 1656.5,1359.0 1658.1,1324.3 1659.6,1365.5 1661.2,1343.0 1663.1,1343.0 1664.9,1382.9 1666.8,1378.6 1668.4,1365.5 1669.9,1395.1 1671.5,1386.0 1673.1,1404.8 1674.6,1390.0 1676.2,1404.8 1678.1,1398.2 1679.9,1359.9 1681.8,1352.4 1683.2,1358.1 1684.6,1348.6 1686.0,1357.0 1687.4,1348.6 1689.3,1348.6 1691.1,1374.1 1693.0,1376.7 1694.6,1356.8 1696.1,1380.3 1697.7,1356.2 1699.3,1381.0 1700.8,1354.5 1702.4,1360.0 1704.3,1384.9 1706.1,1381.1 1708.0,1410.5 1709.6,1422.9 1711.2,1404.1 1712.8,1423.6 1714.5,1402.1 1716.1,1423.6 1717.7,1412.1 1719.3,1423.6 1720.8,1423.6 1722.4,1407.7 1723.9,1423.1 1725.5,1406.4 1727.0,1415.5 1728.6,1408.6 1730.1,1391.6 1731.6,1408.2 1733.0,1383.0 1734.5,1394.6 1736.0,1378.6 1737.5,1378.6 1739.0,1396.5 1740.6,1378.6 1742.1,1398.5 1743.6,1378.6 1745.2,1373.2 1746.8,1417.8 1748.4,1383.1 1750.1,1421.7 1751.7,1409.4 1753.3,1440.4 1754.9,1440.4 1756.5,1408.0 1758.1,1434.8 1759.7,1390.7 1761.2,1412.9 1762.8,1371.0 1764.4,1401.2 1766.0,1371.0 1767.4,1371.0 1768.8,1404.8 1770.3,1371.0 1771.7,1410.5 1773.3,1427.3 1775.0,1392.1 1776.6,1425.2 1778.2,1374.6 1779.9,1406.3 1781.5,1371.0 1783.2,1405.7 1784.8,1382.4 1786.3,1369.9 1787.8,1411.3 1789.3,1389.6 1790.8,1427.3 1792.3,1427.3 1793.9,1399.3 1795.5,1422.8 1797.1,1389.1 1798.8,1408.8 1800.4,1367.4 1802.0,1388.5 1803.6,1367.4 1805.1,1367.4 1806.6,1407.3 1808.0,1367.4 1809.5,1416.6 1811.0,1405.0 1812.6,1388.7 1814.2,1426.3 1815.8,1413.2 1817.5,1447.6 1819.1,1419.5 1820.7,1449.8 1822.3,1449.8 1823.8,1426.5 1825.3,1449.8 1826.8,1408.5 1828.3,1434.0 1829.8,1412.3 1831.3,1404.8 1832.8,1427.5 1834.3,1404.8 1835.8,1424.8 1837.3,1404.8 1838.7,1394.4 1840.2,1425.1 1841.6,1404.3 1843.0,1427.3 1844.5,1424.1 1846.0,1380.5 1847.5,1380.5 1849.3,1416.2 1851.2,1391.7 1853.0,1427.3 1854.4,1427.3 1855.8,1400.5 1857.3,1417.6 1858.7,1391.7 1860.2,1391.7 1861.8,1409.3 1863.3,1391.7 1864.9,1408.7 1866.5,1391.7 1868.0,1405.0 1869.4,1423.6 1870.8,1405.9 1872.3,1423.6 1873.7,1423.6 1875.2,1408.2 1876.7,1423.6 1878.2,1411.6 1879.7,1423.6 1881.2,1414.2 1883.1,1394.0 1884.9,1404.4 1886.8,1386.0 1888.3,1386.0 1889.8,1432.8 1891.3,1422.7 1892.8,1457.3 1894.3,1464.8 1895.7,1444.6 1897.2,1464.8 1898.6,1445.0 1900.0,1464.8 1901.9,1464.8 1903.7,1406.2 1905.6,1399.2 1907.2,1413.6 1908.7,1399.2 1910.3,1432.4 1911.9,1409.3 1913.4,1446.7 1915.0,1438.6 1916.9,1410.2 1918.7,1429.1 1920.6,1410.5 1922.1,1395.5 1923.6,1412.9 1925.0,1395.5 1926.5,1412.1 1928.0,1395.5 1929.5,1395.5 1931.0,1412.9 1932.6,1402.2 1934.1,1421.7 1935.6,1421.7 1937.2,1415.0 1938.7,1425.5 1940.3,1407.4 1941.9,1417.7 1943.4,1402.6 1945.0,1408.6 1946.5,1421.5 1948.0,1410.2 1949.4,1425.5 1950.9,1417.5 1952.4,1425.5 1953.9,1424.8 1955.4,1404.4 1957.0,1415.1 1958.5,1391.1 1960.0,1389.9 1961.6,1396.6 1963.2,1389.9 1964.8,1394.1 1966.4,1389.9 1968.0,1401.1 1969.6,1389.9 1971.2,1389.9 1972.8,1402.2 1974.4,1388.7 1976.0,1401.7 1977.6,1391.5 1979.2,1405.0 1980.8,1391.1 1982.4,1405.0 1984.3,1398.7 1986.1,1371.5 1988.0,1367.4 1990.0,1358.0 1991.8,1387.1 1993.7,1373.5 1995.5,1405.0 1997.0,1421.4 1998.5,1402.2 2000.0,1421.7 2001.5,1408.2 2003.0,1421.7 2004.9,1422.9 2006.7,1393.6 2008.6,1393.6 2010.2,1410.7 2011.7,1400.9 2013.3,1430.9 2014.9,1408.0 2016.4,1433.0 2018.0,1433.0 2019.6,1415.7 2021.1,1433.0 2022.7,1412.8 2024.3,1427.0 2025.8,1405.5 2027.4,1410.5 2028.9,1424.5 2030.4,1386.0 2031.9,1405.5 2033.4,1386.0 2034.9,1386.0 2036.8,1411.3 2038.6,1398.0 2040.5,1421.7 2042.3,1420.7 2044.2,1363.0 2046.0,1352.4 2047.5,1364.5 2049.0,1352.4 2050.6,1364.8 2052.1,1352.4 2053.6,1358.0 2055.1,1394.0 2056.6,1370.8 2058.0,1415.8 2059.5,1385.1 2061.0,1423.6 2062.5,1423.6 2064.0,1405.2 2065.6,1423.6 2067.1,1392.6 2068.6,1405.0 2070.5,1406.8 2072.3,1345.0 2074.2,1345.0 2075.7,1392.5 2077.2,1347.1 2078.7,1431.0 2080.2,1387.8 2081.7,1431.0 2083.1,1431.0 2084.5,1369.8 2085.9,1412.4 2087.3,1371.0 2088.9,1371.0 2090.4,1410.6 2092.0,1378.0 2093.6,1431.0 2095.1,1393.3 2096.7,1423.6 2098.2,1423.6 2099.7,1397.8 2101.2,1416.3 2102.7,1373.9 2104.2,1386.0 2105.6,1395.9 2107.0,1367.4 2108.4,1386.2 2109.8,1367.4 2111.7,1367.4 2113.5,1405.0 2115.4,1405.0 2116.9,1383.9 2118.4,1404.0 2120.0,1375.4 2121.5,1393.8 2123.0,1367.4 2124.8,1350.4 2126.7,1372.2 2128.5,1345.0" fill="none" stroke="#ff0000" stroke-width="10.0" stroke-linejoin="miter" stroke-miterlimit="2"/>
<g stroke="#000" stroke-width="9.5" stroke-linecap="butt"><line x1="350.4" y1="56.85" x2="350.4" y2="1511.65" /><line x1="345.65" y1="1506.9" x2="2134.75" y2="1506.9" /><line x1="320" y1="1506.9" x2="350.4" y2="1506.9" /><line x1="334" y1="1362.1" x2="350.4" y2="1362.1" /><line x1="320" y1="1217.3" x2="350.4" y2="1217.3" /><line x1="334" y1="1072.5" x2="350.4" y2="1072.5" /><line x1="320" y1="927.7" x2="350.4" y2="927.7" /><line x1="334" y1="782.9" x2="350.4" y2="782.9" /><line x1="320" y1="638.1" x2="350.4" y2="638.1" /><line x1="334" y1="493.3" x2="350.4" y2="493.3" /><line x1="320" y1="348.5" x2="350.4" y2="348.5" /><line x1="334" y1="203.7" x2="350.4" y2="203.7" /><line x1="320" y1="58.8" x2="350.4" y2="58.8" /><line x1="350.4" y1="1506.9" x2="350.4" y2="1534" /><line x1="528.4" y1="1506.9" x2="528.4" y2="1523" /><line x1="706.3" y1="1506.9" x2="706.3" y2="1534" /><line x1="884.3" y1="1506.9" x2="884.3" y2="1523" /><line x1="1062.2" y1="1506.9" x2="1062.2" y2="1534" /><line x1="1240.2" y1="1506.9" x2="1240.2" y2="1523" /><line x1="1418.2" y1="1506.9" x2="1418.2" y2="1534" /><line x1="1596.1" y1="1506.9" x2="1596.1" y2="1523" /><line x1="1774.1" y1="1506.9" x2="1774.1" y2="1534" /><line x1="1952.0" y1="1506.9" x2="1952.0" y2="1523" /><line x1="2130.0" y1="1506.9" x2="2130.0" y2="1534" /></g>
<g font-family="'Liberation Sans', Arial, sans-serif" font-weight="bold" fill="#000"><text x="300.2" y="1529.0" text-anchor="end" font-size="86">0</text><text x="300.4" y="1237.6" text-anchor="end" font-size="86">500</text><text x="302.6" y="948.7" text-anchor="end" font-size="86">1000</text><text x="302.0" y="659.6" text-anchor="end" font-size="86">1500</text><text x="302.6" y="371.2" text-anchor="end" font-size="86">2000</text><text x="300.5" y="82.4" text-anchor="end" font-size="86">2500</text><text x="347.5" y="1612.5" text-anchor="middle" font-size="78.5">0</text><text x="702.3" y="1612.5" text-anchor="middle" font-size="78.5">200</text><text x="1060.9" y="1612.5" text-anchor="middle" font-size="78.5">400</text><text x="1415.4" y="1612.5" text-anchor="middle" font-size="78.5">600</text><text x="1771.1" y="1612.5" text-anchor="middle" font-size="78.5">800</text><text x="2128.2" y="1612.5" text-anchor="middle" font-size="78.5">1000</text></g>
<text x="947" y="1706" font-family="'Liberation Sans', Arial, sans-serif" font-weight="bold" font-size="71.7" fill="#000">Raman Shift/cm</text>
<text x="1490.5" y="1671" font-family="'Liberation Sans', Arial, sans-serif" font-size="46" fill="#000">-1</text>
<path d="M947.9,1639.8 H1493.5 V1629.9 H1532.5 V1682.2 H1493.5 V1724.2 H947.9 Z" fill="none" stroke="#0033ff" stroke-width="3.3"/>
<text transform="translate(82.5,1117) rotate(-90)" x="0" y="0" font-family="'Liberation Sans', Arial, sans-serif" font-weight="bold" font-size="72" fill="#000">Relative intensity</text>
<rect x="1321.5" y="26.5" width="568" height="370" fill="#fff" stroke="#000" stroke-width="3.2"/><line x1="1360" y1="84.7" x2="1530" y2="84.7" stroke="#000" stroke-width="9.7"/><text x="1544" y="109.1" font-family="'Liberation Sans', Arial, sans-serif" font-weight="bold" font-size="72" fill="#000">Annealed</text><line x1="1360" y1="176.0" x2="1530" y2="176.0" stroke="#ff0000" stroke-width="9.7"/><text x="1544" y="200.3" font-family="'Liberation Sans', Arial, sans-serif" font-weight="bold" font-size="72" fill="#000">1st pass</text><line x1="1360" y1="267.0" x2="1530" y2="267.0" stroke="#0000ff" stroke-width="9.7"/><text x="1544" y="287.5" font-family="'Liberation Sans', Arial, sans-serif" font-weight="bold" font-size="72" fill="#000">2nd pass</text><line x1="1360" y1="357.8" x2="1530" y2="357.8" stroke="#ff00ff" stroke-width="9.7"/><text x="1544" y="377.6" font-family="'Liberation Sans', Arial, sans-serif" font-weight="bold" font-size="72" fill="#000">3rd pass</text>
<rect x="113.06" y="937.93" width="18.15" height="12.25" fill="#fff"/><rect x="143.07" y="937.93" width="16.43" height="12.25" fill="#fff"/><rect x="112.46" y="648.82" width="18.15" height="12.25" fill="#fff"/><rect x="142.47" y="648.82" width="16.43" height="12.25" fill="#fff"/><rect x="2042.53" y="1602.69" width="16.56" height="11.31" fill="#fff"/><rect x="2069.92" y="1602.69" width="14.99" height="11.31" fill="#fff"/><rect x="1545.44" y="191.30" width="15.19" height="10.50" fill="#fff"/><rect x="1570.57" y="191.30" width="13.75" height="10.50" fill="#fff"/><rect x="1505.82" y="1666.17" width="11.32" height="6.33" fill="#fff"/><rect x="1521.41" y="1666.17" width="9.25" height="6.33" fill="#fff"/></svg>
</body></html>
